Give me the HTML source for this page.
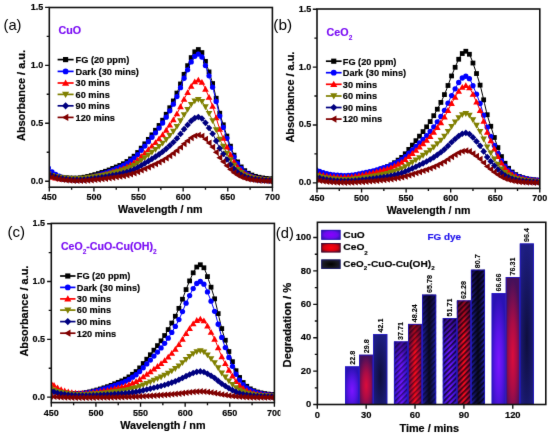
<!DOCTYPE html><html><head><meta charset="utf-8"><style>html,body{margin:0;padding:0;background:#fff;}svg{display:block;}</style></head><body>
<svg width="550" height="437" viewBox="0 0 550 437" font-family='"Liberation Sans", sans-serif'>
<defs><filter id="soft" x="0" y="0" width="550" height="437" filterUnits="userSpaceOnUse" color-interpolation-filters="sRGB"><feConvolveMatrix order="3" kernelMatrix="0.00524 0.06192 0.00524 0.06192 0.73137 0.06192 0.00524 0.06192 0.00524" edgeMode="duplicate" preserveAlpha="true"/></filter></defs>
<rect width="550" height="437" fill="#fff"/>
<g filter="url(#soft)">
<rect width="550" height="437" fill="#fff"/>
<clipPath id="clipa"><rect x="49.3" y="7.5" width="223.1" height="179.7"/></clipPath>
<g clip-path="url(#clipa)">
<polyline points="40.38,170.24 42.16,171.05 43.95,171.83 45.73,172.59 47.52,173.31 49.3,174.01 51.08,174.7 52.87,175.32 54.65,175.81 56.44,176.21 58.22,176.57 60.01,176.89 61.79,177.21 63.58,177.48 65.36,177.68 67.15,177.85 68.93,177.98 70.72,178.03 72.5,178.07 74.29,178.1 76.07,178.11 77.86,178.03 79.64,177.86 81.43,177.65 83.21,177.36 85,177.02 86.78,176.66 88.57,176.25 90.35,175.81 92.14,175.35 93.92,174.87 95.7,174.36 97.49,173.83 99.27,173.29 101.06,172.73 102.84,172.15 104.63,171.57 106.41,170.97 108.2,170.32 109.98,169.59 111.77,168.81 113.55,168.03 115.34,167.31 117.12,166.61 118.91,165.86 120.69,165.05 122.48,164.18 124.26,163.22 126.05,162.1 127.83,160.85 129.62,159.55 131.4,158.25 133.19,156.9 134.97,155.39 136.76,153.56 138.54,151.4 140.32,149.19 142.11,147.06 143.89,144.9 145.68,142.72 147.46,140.49 149.25,138.23 151.03,135.95 152.82,133.67 154.6,131.4 156.39,129.09 158.17,126.68 159.96,124.18 161.74,121.56 163.53,118.77 165.31,115.8 167.1,112.67 168.88,109.4 170.67,106.07 172.45,102.69 174.24,99.09 176.02,95.16 177.81,90.93 179.59,86.4 181.38,81.46 183.16,76.61 184.94,72.11 186.73,67.78 188.51,63.54 190.3,59.41 192.08,55.9 193.87,52.88 195.65,51.01 197.44,49.74 199.22,49.8 201.01,51.28 202.79,54.42 204.58,58.77 206.36,64 208.15,69.2 209.93,74.7 211.72,80.47 213.5,86.78 215.29,94.26 217.07,102.08 218.86,109.64 220.64,116.44 222.43,122.11 224.21,127.51 226,133.22 227.78,138.72 229.56,143.76 231.35,148.48 233.13,153.04 234.92,157.1 236.7,160.41 238.49,163.27 240.27,165.76 242.06,168 243.84,169.88 245.63,171.39 247.41,172.7 249.2,173.77 250.98,174.64 252.77,175.41 254.55,176.07 256.34,176.61 258.12,177.05 259.91,177.43 261.69,177.77 263.48,178.07 265.26,178.31 267.05,178.52 268.83,178.7 270.62,178.83 272.4,178.92 274.18,178.99 275.97,179.05 277.75,179.1 279.54,179.13 281.32,179.15" fill="none" stroke="#000000" stroke-width="1"/>
<rect x="42.45" y="169.82" width="4.78" height="4.78" fill="#000000"/>
<rect x="46.02" y="171.28" width="4.78" height="4.78" fill="#000000"/>
<rect x="49.59" y="172.63" width="4.78" height="4.78" fill="#000000"/>
<rect x="53.15" y="173.63" width="4.78" height="4.78" fill="#000000"/>
<rect x="56.72" y="174.34" width="4.78" height="4.78" fill="#000000"/>
<rect x="60.29" y="174.96" width="4.78" height="4.78" fill="#000000"/>
<rect x="63.86" y="175.38" width="4.78" height="4.78" fill="#000000"/>
<rect x="67.43" y="175.62" width="4.78" height="4.78" fill="#000000"/>
<rect x="71" y="175.7" width="4.78" height="4.78" fill="#000000"/>
<rect x="74.57" y="175.7" width="4.78" height="4.78" fill="#000000"/>
<rect x="78.14" y="175.37" width="4.78" height="4.78" fill="#000000"/>
<rect x="81.71" y="174.8" width="4.78" height="4.78" fill="#000000"/>
<rect x="85.28" y="174.07" width="4.78" height="4.78" fill="#000000"/>
<rect x="88.85" y="173.19" width="4.78" height="4.78" fill="#000000"/>
<rect x="92.42" y="172.22" width="4.78" height="4.78" fill="#000000"/>
<rect x="95.99" y="171.17" width="4.78" height="4.78" fill="#000000"/>
<rect x="99.56" y="170.05" width="4.78" height="4.78" fill="#000000"/>
<rect x="103.13" y="168.88" width="4.78" height="4.78" fill="#000000"/>
<rect x="106.7" y="167.58" width="4.78" height="4.78" fill="#000000"/>
<rect x="110.27" y="166.02" width="4.78" height="4.78" fill="#000000"/>
<rect x="113.84" y="164.57" width="4.78" height="4.78" fill="#000000"/>
<rect x="117.41" y="163.07" width="4.78" height="4.78" fill="#000000"/>
<rect x="120.98" y="161.32" width="4.78" height="4.78" fill="#000000"/>
<rect x="124.55" y="159.1" width="4.78" height="4.78" fill="#000000"/>
<rect x="128.12" y="156.51" width="4.78" height="4.78" fill="#000000"/>
<rect x="131.69" y="153.79" width="4.78" height="4.78" fill="#000000"/>
<rect x="135.26" y="150.11" width="4.78" height="4.78" fill="#000000"/>
<rect x="138.83" y="145.74" width="4.78" height="4.78" fill="#000000"/>
<rect x="142.39" y="141.42" width="4.78" height="4.78" fill="#000000"/>
<rect x="145.96" y="136.97" width="4.78" height="4.78" fill="#000000"/>
<rect x="149.53" y="132.41" width="4.78" height="4.78" fill="#000000"/>
<rect x="153.1" y="127.86" width="4.78" height="4.78" fill="#000000"/>
<rect x="156.67" y="123.05" width="4.78" height="4.78" fill="#000000"/>
<rect x="160.24" y="117.8" width="4.78" height="4.78" fill="#000000"/>
<rect x="163.81" y="111.87" width="4.78" height="4.78" fill="#000000"/>
<rect x="167.38" y="105.35" width="4.78" height="4.78" fill="#000000"/>
<rect x="170.95" y="98.54" width="4.78" height="4.78" fill="#000000"/>
<rect x="174.52" y="90.68" width="4.78" height="4.78" fill="#000000"/>
<rect x="178.09" y="81.56" width="4.78" height="4.78" fill="#000000"/>
<rect x="181.66" y="71.95" width="4.78" height="4.78" fill="#000000"/>
<rect x="185.23" y="63.27" width="4.78" height="4.78" fill="#000000"/>
<rect x="188.8" y="55.2" width="4.78" height="4.78" fill="#000000"/>
<rect x="192.37" y="49.44" width="4.78" height="4.78" fill="#000000"/>
<rect x="195.94" y="47.15" width="4.78" height="4.78" fill="#000000"/>
<rect x="199.51" y="50.17" width="4.78" height="4.78" fill="#000000"/>
<rect x="203.08" y="58.97" width="4.78" height="4.78" fill="#000000"/>
<rect x="206.65" y="69.51" width="4.78" height="4.78" fill="#000000"/>
<rect x="210.22" y="81.14" width="4.78" height="4.78" fill="#000000"/>
<rect x="213.79" y="95.85" width="4.78" height="4.78" fill="#000000"/>
<rect x="217.36" y="110.82" width="4.78" height="4.78" fill="#000000"/>
<rect x="220.93" y="122.4" width="4.78" height="4.78" fill="#000000"/>
<rect x="224.5" y="133.65" width="4.78" height="4.78" fill="#000000"/>
<rect x="228.07" y="143.77" width="4.78" height="4.78" fill="#000000"/>
<rect x="231.63" y="152.78" width="4.78" height="4.78" fill="#000000"/>
<rect x="235.2" y="159.5" width="4.78" height="4.78" fill="#000000"/>
<rect x="238.77" y="164.53" width="4.78" height="4.78" fill="#000000"/>
<rect x="242.34" y="168.27" width="4.78" height="4.78" fill="#000000"/>
<rect x="245.91" y="170.87" width="4.78" height="4.78" fill="#000000"/>
<rect x="249.48" y="172.64" width="4.78" height="4.78" fill="#000000"/>
<rect x="253.05" y="173.96" width="4.78" height="4.78" fill="#000000"/>
<rect x="256.62" y="174.85" width="4.78" height="4.78" fill="#000000"/>
<rect x="260.19" y="175.53" width="4.78" height="4.78" fill="#000000"/>
<rect x="263.76" y="176.03" width="4.78" height="4.78" fill="#000000"/>
<rect x="267.33" y="176.38" width="4.78" height="4.78" fill="#000000"/>
<rect x="270.9" y="176.56" width="4.78" height="4.78" fill="#000000"/>
<polyline points="40.38,154.39 42.16,158.33 43.95,161.68 45.73,164.55 47.52,167.01 49.3,169.14 51.08,170.99 52.87,172.57 54.65,173.84 56.44,174.88 58.22,175.76 60.01,176.52 61.79,177.18 63.58,177.73 65.36,178.17 67.15,178.53 68.93,178.8 70.72,178.99 72.5,179.13 74.29,179.24 76.07,179.31 77.86,179.29 79.64,179.16 81.43,178.99 83.21,178.74 85,178.43 86.78,178.09 88.57,177.7 90.35,177.28 92.14,176.84 93.92,176.37 95.7,175.88 97.49,175.37 99.27,174.84 101.06,174.29 102.84,173.73 104.63,173.16 106.41,172.58 108.2,171.94 109.98,171.23 111.77,170.46 113.55,169.7 115.34,169 117.12,168.31 118.91,167.58 120.69,166.78 122.48,165.94 124.26,165 126.05,163.91 127.83,162.68 129.62,161.41 131.4,160.14 133.19,158.83 134.97,157.35 136.76,155.56 138.54,153.45 140.32,151.3 142.11,149.21 143.89,147.11 145.68,144.98 147.46,142.81 149.25,140.6 151.03,138.37 152.82,136.14 154.6,133.93 156.39,131.67 158.17,129.32 159.96,126.89 161.74,124.33 163.53,121.6 165.31,118.71 167.1,115.65 168.88,112.46 170.67,109.21 172.45,105.92 174.24,102.41 176.02,98.57 177.81,94.44 179.59,90.02 181.38,85.2 183.16,80.48 184.94,76.08 186.73,71.85 188.51,67.72 190.3,63.69 192.08,60.27 193.87,57.32 195.65,55.5 197.44,54.26 199.22,54.31 201.01,55.75 202.79,58.81 204.58,63.05 206.36,68.14 208.15,73.21 209.93,78.57 211.72,84.19 213.5,90.34 215.29,97.63 217.07,105.25 218.86,112.63 220.64,119.25 222.43,124.77 224.21,130.04 226,135.6 227.78,140.96 229.56,145.87 231.35,150.47 233.13,154.91 234.92,158.86 236.7,162.09 238.49,164.88 240.27,167.31 242.06,169.48 243.84,171.31 245.63,172.79 247.41,174.05 249.2,175.09 250.98,175.94 252.77,176.69 254.55,177.33 256.34,177.85 258.12,178.28 259.91,178.65 261.69,178.98 263.48,179.27 265.26,179.5 267.05,179.7 268.83,179.87 270.62,180 272.4,180.08 274.18,180.15 275.97,180.2 277.75,180.25 279.54,180.28 281.32,180.29" fill="none" stroke="#0000ff" stroke-width="1"/>
<circle cx="44.84" cy="163.17" r="2.65" fill="#0000ff"/>
<circle cx="48.41" cy="168.11" r="2.65" fill="#0000ff"/>
<circle cx="51.98" cy="171.81" r="2.65" fill="#0000ff"/>
<circle cx="55.55" cy="174.39" r="2.65" fill="#0000ff"/>
<circle cx="59.12" cy="176.15" r="2.65" fill="#0000ff"/>
<circle cx="62.69" cy="177.47" r="2.65" fill="#0000ff"/>
<circle cx="66.26" cy="178.35" r="2.65" fill="#0000ff"/>
<circle cx="69.83" cy="178.9" r="2.65" fill="#0000ff"/>
<circle cx="73.39" cy="179.19" r="2.65" fill="#0000ff"/>
<circle cx="76.96" cy="179.32" r="2.65" fill="#0000ff"/>
<circle cx="80.53" cy="179.08" r="2.65" fill="#0000ff"/>
<circle cx="84.1" cy="178.59" r="2.65" fill="#0000ff"/>
<circle cx="87.67" cy="177.9" r="2.65" fill="#0000ff"/>
<circle cx="91.24" cy="177.07" r="2.65" fill="#0000ff"/>
<circle cx="94.81" cy="176.13" r="2.65" fill="#0000ff"/>
<circle cx="98.38" cy="175.11" r="2.65" fill="#0000ff"/>
<circle cx="101.95" cy="174.01" r="2.65" fill="#0000ff"/>
<circle cx="105.52" cy="172.87" r="2.65" fill="#0000ff"/>
<circle cx="109.09" cy="171.6" r="2.65" fill="#0000ff"/>
<circle cx="112.66" cy="170.08" r="2.65" fill="#0000ff"/>
<circle cx="116.23" cy="168.66" r="2.65" fill="#0000ff"/>
<circle cx="119.8" cy="167.18" r="2.65" fill="#0000ff"/>
<circle cx="123.37" cy="165.48" r="2.65" fill="#0000ff"/>
<circle cx="126.94" cy="163.31" r="2.65" fill="#0000ff"/>
<circle cx="130.51" cy="160.77" r="2.65" fill="#0000ff"/>
<circle cx="134.08" cy="158.12" r="2.65" fill="#0000ff"/>
<circle cx="137.65" cy="154.53" r="2.65" fill="#0000ff"/>
<circle cx="141.22" cy="150.26" r="2.65" fill="#0000ff"/>
<circle cx="144.79" cy="146.05" r="2.65" fill="#0000ff"/>
<circle cx="148.36" cy="141.71" r="2.65" fill="#0000ff"/>
<circle cx="151.93" cy="137.25" r="2.65" fill="#0000ff"/>
<circle cx="155.5" cy="132.81" r="2.65" fill="#0000ff"/>
<circle cx="159.07" cy="128.12" r="2.65" fill="#0000ff"/>
<circle cx="162.63" cy="122.99" r="2.65" fill="#0000ff"/>
<circle cx="166.2" cy="117.2" r="2.65" fill="#0000ff"/>
<circle cx="169.77" cy="110.84" r="2.65" fill="#0000ff"/>
<circle cx="173.34" cy="104.2" r="2.65" fill="#0000ff"/>
<circle cx="176.91" cy="96.53" r="2.65" fill="#0000ff"/>
<circle cx="180.48" cy="87.64" r="2.65" fill="#0000ff"/>
<circle cx="184.05" cy="78.26" r="2.65" fill="#0000ff"/>
<circle cx="187.62" cy="69.79" r="2.65" fill="#0000ff"/>
<circle cx="191.19" cy="61.92" r="2.65" fill="#0000ff"/>
<circle cx="194.76" cy="56.3" r="2.65" fill="#0000ff"/>
<circle cx="198.33" cy="54.06" r="2.65" fill="#0000ff"/>
<circle cx="201.9" cy="57" r="2.65" fill="#0000ff"/>
<circle cx="205.47" cy="65.57" r="2.65" fill="#0000ff"/>
<circle cx="209.04" cy="75.85" r="2.65" fill="#0000ff"/>
<circle cx="212.61" cy="87.17" r="2.65" fill="#0000ff"/>
<circle cx="216.18" cy="101.51" r="2.65" fill="#0000ff"/>
<circle cx="219.75" cy="116.1" r="2.65" fill="#0000ff"/>
<circle cx="223.32" cy="127.38" r="2.65" fill="#0000ff"/>
<circle cx="226.89" cy="138.35" r="2.65" fill="#0000ff"/>
<circle cx="230.46" cy="148.21" r="2.65" fill="#0000ff"/>
<circle cx="234.03" cy="156.99" r="2.65" fill="#0000ff"/>
<circle cx="237.6" cy="163.53" r="2.65" fill="#0000ff"/>
<circle cx="241.17" cy="168.43" r="2.65" fill="#0000ff"/>
<circle cx="244.74" cy="172.07" r="2.65" fill="#0000ff"/>
<circle cx="248.31" cy="174.6" r="2.65" fill="#0000ff"/>
<circle cx="251.87" cy="176.33" r="2.65" fill="#0000ff"/>
<circle cx="255.44" cy="177.61" r="2.65" fill="#0000ff"/>
<circle cx="259.01" cy="178.47" r="2.65" fill="#0000ff"/>
<circle cx="262.58" cy="179.13" r="2.65" fill="#0000ff"/>
<circle cx="266.15" cy="179.6" r="2.65" fill="#0000ff"/>
<circle cx="269.72" cy="179.94" r="2.65" fill="#0000ff"/>
<circle cx="273.29" cy="180.11" r="2.65" fill="#0000ff"/>
<polyline points="40.38,173.82 42.16,174.41 43.95,174.98 45.73,175.54 47.52,176.08 49.3,176.6 51.08,177.11 52.87,177.58 54.65,177.95 56.44,178.25 58.22,178.51 60.01,178.76 61.79,178.99 63.58,179.19 65.36,179.34 67.15,179.47 68.93,179.56 70.72,179.6 72.5,179.63 74.29,179.65 76.07,179.65 77.86,179.59 79.64,179.45 81.43,179.29 83.21,179.06 85,178.8 86.78,178.51 88.57,178.2 90.35,177.85 92.14,177.5 93.92,177.12 95.7,176.72 97.49,176.32 99.27,175.89 101.06,175.46 102.84,175.01 104.63,174.56 106.41,174.09 108.2,173.59 109.98,173.02 111.77,172.41 113.55,171.81 115.34,171.25 117.12,170.71 118.91,170.12 120.69,169.5 122.48,168.82 124.26,168.08 126.05,167.21 127.83,166.24 129.62,165.23 131.4,164.23 133.19,163.18 134.97,162.01 136.76,160.59 138.54,158.92 140.32,157.21 142.11,155.55 143.89,153.88 145.68,152.19 147.46,150.47 149.25,148.72 151.03,146.95 152.82,145.18 154.6,143.42 156.39,141.63 158.17,139.77 159.96,137.83 161.74,135.8 163.53,133.64 165.31,131.34 167.1,128.92 168.88,126.38 170.67,123.8 172.45,121.19 174.24,118.4 176.02,115.35 177.81,112.08 179.59,108.57 181.38,104.74 183.16,100.99 184.94,97.5 186.73,94.15 188.51,90.86 190.3,87.66 192.08,84.95 193.87,82.61 195.65,81.16 197.44,80.18 199.22,80.22 201.01,81.37 202.79,83.79 204.58,87.16 206.36,91.21 208.15,95.23 209.93,99.49 211.72,103.95 213.5,108.84 215.29,114.62 217.07,120.68 218.86,126.53 220.64,131.79 222.43,136.18 224.21,140.36 226,144.78 227.78,149.04 229.56,152.94 231.35,156.59 233.13,160.12 234.92,163.26 236.7,165.82 238.49,168.03 240.27,169.96 242.06,171.69 243.84,173.14 245.63,174.32 247.41,175.32 249.2,176.15 250.98,176.82 252.77,177.42 254.55,177.93 256.34,178.35 258.12,178.68 259.91,178.98 261.69,179.24 263.48,179.47 265.26,179.66 267.05,179.81 268.83,179.95 270.62,180.06 272.4,180.12 274.18,180.17 275.97,180.22 277.75,180.25 279.54,180.28 281.32,180.29" fill="none" stroke="#ff0000" stroke-width="1"/>
<path d="M44.84 171.93L48.17 177.76L41.51 177.76Z" fill="#ff0000"/>
<path d="M48.41 173.01L51.74 178.84L45.08 178.84Z" fill="#ff0000"/>
<path d="M51.98 174.03L55.31 179.85L48.65 179.85Z" fill="#ff0000"/>
<path d="M55.55 174.77L58.87 180.6L52.22 180.6Z" fill="#ff0000"/>
<path d="M59.12 175.31L62.44 181.13L55.79 181.13Z" fill="#ff0000"/>
<path d="M62.69 175.77L66.01 181.6L59.36 181.6Z" fill="#ff0000"/>
<path d="M66.26 176.08L69.58 181.91L62.93 181.91Z" fill="#ff0000"/>
<path d="M69.83 176.26L73.15 182.08L66.5 182.08Z" fill="#ff0000"/>
<path d="M73.39 176.31L76.72 182.14L70.07 182.14Z" fill="#ff0000"/>
<path d="M76.96 176.3L80.29 182.13L73.64 182.13Z" fill="#ff0000"/>
<path d="M80.53 176.05L83.86 181.87L77.21 181.87Z" fill="#ff0000"/>
<path d="M84.1 175.6L87.43 181.43L80.78 181.43Z" fill="#ff0000"/>
<path d="M87.67 175.03L91 180.85L84.35 180.85Z" fill="#ff0000"/>
<path d="M91.24 174.35L94.57 180.17L87.91 180.17Z" fill="#ff0000"/>
<path d="M94.81 173.59L98.14 179.42L91.48 179.42Z" fill="#ff0000"/>
<path d="M98.38 172.78L101.71 178.6L95.05 178.6Z" fill="#ff0000"/>
<path d="M101.95 171.91L105.28 177.73L98.62 177.73Z" fill="#ff0000"/>
<path d="M105.52 171L108.85 176.82L102.19 176.82Z" fill="#ff0000"/>
<path d="M109.09 169.99L112.42 175.81L105.76 175.81Z" fill="#ff0000"/>
<path d="M112.66 168.78L115.99 174.6L109.33 174.6Z" fill="#ff0000"/>
<path d="M116.23 167.65L119.56 173.48L112.9 173.48Z" fill="#ff0000"/>
<path d="M119.8 166.49L123.13 172.31L116.47 172.31Z" fill="#ff0000"/>
<path d="M123.37 165.14L126.7 170.96L120.04 170.96Z" fill="#ff0000"/>
<path d="M126.94 163.41L130.27 169.23L123.61 169.23Z" fill="#ff0000"/>
<path d="M130.51 161.4L133.84 167.22L127.18 167.22Z" fill="#ff0000"/>
<path d="M134.08 159.29L137.41 165.12L130.75 165.12Z" fill="#ff0000"/>
<path d="M137.65 156.44L140.98 162.27L134.32 162.27Z" fill="#ff0000"/>
<path d="M141.22 153.05L144.55 158.88L137.89 158.88Z" fill="#ff0000"/>
<path d="M144.79 149.71L148.11 155.54L141.46 155.54Z" fill="#ff0000"/>
<path d="M148.36 146.27L151.68 152.09L145.03 152.09Z" fill="#ff0000"/>
<path d="M151.93 142.73L155.25 148.56L148.6 148.56Z" fill="#ff0000"/>
<path d="M155.5 139.21L158.82 145.03L152.17 145.03Z" fill="#ff0000"/>
<path d="M159.07 135.48L162.39 141.31L155.74 141.31Z" fill="#ff0000"/>
<path d="M162.63 131.41L165.96 137.23L159.31 137.23Z" fill="#ff0000"/>
<path d="M166.2 126.82L169.53 132.64L162.88 132.64Z" fill="#ff0000"/>
<path d="M169.77 121.77L173.1 127.59L166.45 127.59Z" fill="#ff0000"/>
<path d="M173.34 116.5L176.67 122.32L170.02 122.32Z" fill="#ff0000"/>
<path d="M176.91 110.41L180.24 116.23L173.59 116.23Z" fill="#ff0000"/>
<path d="M180.48 103.35L183.81 109.17L177.15 109.17Z" fill="#ff0000"/>
<path d="M184.05 95.9L187.38 101.72L180.72 101.72Z" fill="#ff0000"/>
<path d="M187.62 89.18L190.95 95.01L184.29 95.01Z" fill="#ff0000"/>
<path d="M191.19 82.93L194.52 88.76L187.86 88.76Z" fill="#ff0000"/>
<path d="M194.76 78.47L198.09 84.3L191.43 84.3Z" fill="#ff0000"/>
<path d="M198.33 76.69L201.66 82.52L195 82.52Z" fill="#ff0000"/>
<path d="M201.9 79.03L205.23 84.85L198.57 84.85Z" fill="#ff0000"/>
<path d="M205.47 85.84L208.8 91.66L202.14 91.66Z" fill="#ff0000"/>
<path d="M209.04 94L212.37 99.82L205.71 99.82Z" fill="#ff0000"/>
<path d="M212.61 102.99L215.94 108.82L209.28 108.82Z" fill="#ff0000"/>
<path d="M216.18 114.38L219.51 120.2L212.85 120.2Z" fill="#ff0000"/>
<path d="M219.75 125.97L223.08 131.79L216.42 131.79Z" fill="#ff0000"/>
<path d="M223.32 134.93L226.65 140.75L219.99 140.75Z" fill="#ff0000"/>
<path d="M226.89 143.63L230.22 149.46L223.56 149.46Z" fill="#ff0000"/>
<path d="M230.46 151.47L233.79 157.29L227.13 157.29Z" fill="#ff0000"/>
<path d="M234.03 158.44L237.35 164.26L230.7 164.26Z" fill="#ff0000"/>
<path d="M237.6 163.64L240.92 169.46L234.27 169.46Z" fill="#ff0000"/>
<path d="M241.17 167.53L244.49 173.35L237.84 173.35Z" fill="#ff0000"/>
<path d="M244.74 170.42L248.06 176.25L241.41 176.25Z" fill="#ff0000"/>
<path d="M248.31 172.43L251.63 178.26L244.98 178.26Z" fill="#ff0000"/>
<path d="M251.87 173.8L255.2 179.63L248.55 179.63Z" fill="#ff0000"/>
<path d="M255.44 174.82L258.77 180.64L252.12 180.64Z" fill="#ff0000"/>
<path d="M259.01 175.51L262.34 181.33L255.69 181.33Z" fill="#ff0000"/>
<path d="M262.58 176.03L265.91 181.86L259.26 181.86Z" fill="#ff0000"/>
<path d="M266.15 176.41L269.48 182.23L262.83 182.23Z" fill="#ff0000"/>
<path d="M269.72 176.68L273.05 182.51L266.39 182.51Z" fill="#ff0000"/>
<path d="M273.29 176.82L276.62 182.64L269.96 182.64Z" fill="#ff0000"/>
<polyline points="40.38,170.05 42.16,171.1 43.95,172.06 45.73,172.93 47.52,173.73 49.3,174.46 51.08,175.14 52.87,175.75 54.65,176.25 56.44,176.66 58.22,177.02 60.01,177.35 61.79,177.65 63.58,177.91 65.36,178.12 67.15,178.3 68.93,178.43 70.72,178.52 72.5,178.59 74.29,178.65 76.07,178.69 77.86,178.68 79.64,178.6 81.43,178.5 83.21,178.34 85,178.15 86.78,177.94 88.57,177.7 90.35,177.45 92.14,177.18 93.92,176.89 95.7,176.58 97.49,176.27 99.27,175.94 101.06,175.6 102.84,175.26 104.63,174.91 106.41,174.54 108.2,174.15 109.98,173.7 111.77,173.22 113.55,172.75 115.34,172.31 117.12,171.88 118.91,171.42 120.69,170.93 122.48,170.4 124.26,169.81 126.05,169.12 127.83,168.35 129.62,167.55 131.4,166.75 133.19,165.92 134.97,164.99 136.76,163.86 138.54,162.52 140.32,161.16 142.11,159.84 143.89,158.51 145.68,157.16 147.46,155.79 149.25,154.39 151.03,152.98 152.82,151.57 154.6,150.17 156.39,148.74 158.17,147.25 159.96,145.71 161.74,144.08 163.53,142.35 165.31,140.52 167.1,138.58 168.88,136.56 170.67,134.5 172.45,132.41 174.24,130.18 176.02,127.74 177.81,125.12 179.59,122.31 181.38,119.25 183.16,116.25 184.94,113.46 186.73,110.77 188.51,108.15 190.3,105.59 192.08,103.42 193.87,101.55 195.65,100.4 197.44,99.61 199.22,99.66 201.01,100.58 202.79,102.54 204.58,105.25 206.36,108.5 208.15,111.74 209.93,115.17 211.72,118.76 213.5,122.68 215.29,127.33 217.07,132.2 218.86,136.91 220.64,141.14 222.43,144.66 224.21,148.03 226,151.58 227.78,155 229.56,158.14 231.35,161.08 233.13,163.92 234.92,166.45 236.7,168.51 238.49,170.3 240.27,171.85 242.06,173.25 243.84,174.42 245.63,175.37 247.41,176.19 249.2,176.86 250.98,177.41 252.77,177.89 254.55,178.31 256.34,178.65 258.12,178.93 259.91,179.18 261.69,179.4 263.48,179.59 265.26,179.75 267.05,179.88 268.83,180 270.62,180.09 272.4,180.15 274.18,180.2 275.97,180.25 277.75,180.28 279.54,180.31 281.32,180.33" fill="none" stroke="#808000" stroke-width="1"/>
<path d="M44.84 175.83L48.17 170.01L41.51 170.01Z" fill="#808000"/>
<path d="M48.41 177.43L51.74 171.61L45.08 171.61Z" fill="#808000"/>
<path d="M51.98 178.79L55.31 172.96L48.65 172.96Z" fill="#808000"/>
<path d="M55.55 179.79L58.87 173.97L52.22 173.97Z" fill="#808000"/>
<path d="M59.12 180.52L62.44 174.7L55.79 174.7Z" fill="#808000"/>
<path d="M62.69 181.12L66.01 175.3L59.36 175.3Z" fill="#808000"/>
<path d="M66.26 181.54L69.58 175.71L62.93 175.71Z" fill="#808000"/>
<path d="M69.83 181.81L73.15 175.99L66.5 175.99Z" fill="#808000"/>
<path d="M73.39 181.95L76.72 176.13L70.07 176.13Z" fill="#808000"/>
<path d="M76.96 182.02L80.29 176.2L73.64 176.2Z" fill="#808000"/>
<path d="M80.53 181.88L83.86 176.06L77.21 176.06Z" fill="#808000"/>
<path d="M84.1 181.57L87.43 175.75L80.78 175.75Z" fill="#808000"/>
<path d="M87.67 181.15L91 175.33L84.35 175.33Z" fill="#808000"/>
<path d="M91.24 180.64L94.57 174.82L87.91 174.82Z" fill="#808000"/>
<path d="M94.81 180.06L98.14 174.24L91.48 174.24Z" fill="#808000"/>
<path d="M98.38 179.44L101.71 173.61L95.05 173.61Z" fill="#808000"/>
<path d="M101.95 178.76L105.28 172.94L98.62 172.94Z" fill="#808000"/>
<path d="M105.52 178.05L108.85 172.23L102.19 172.23Z" fill="#808000"/>
<path d="M109.09 177.26L112.42 171.44L105.76 171.44Z" fill="#808000"/>
<path d="M112.66 176.31L115.99 170.49L109.33 170.49Z" fill="#808000"/>
<path d="M116.23 175.43L119.56 169.6L112.9 169.6Z" fill="#808000"/>
<path d="M119.8 174.51L123.13 168.68L116.47 168.68Z" fill="#808000"/>
<path d="M123.37 173.44L126.7 167.62L120.04 167.62Z" fill="#808000"/>
<path d="M126.94 172.07L130.27 166.25L123.61 166.25Z" fill="#808000"/>
<path d="M130.51 170.48L133.84 164.65L127.18 164.65Z" fill="#808000"/>
<path d="M134.08 168.8L137.41 162.98L130.75 162.98Z" fill="#808000"/>
<path d="M137.65 166.53L140.98 160.71L134.32 160.71Z" fill="#808000"/>
<path d="M141.22 163.83L144.55 158.01L137.89 158.01Z" fill="#808000"/>
<path d="M144.79 161.17L148.11 155.34L141.46 155.34Z" fill="#808000"/>
<path d="M148.36 158.42L151.68 152.59L145.03 152.59Z" fill="#808000"/>
<path d="M151.93 155.6L155.25 149.77L148.6 149.77Z" fill="#808000"/>
<path d="M155.5 152.79L158.82 146.96L152.17 146.96Z" fill="#808000"/>
<path d="M159.07 149.81L162.39 143.99L155.74 143.99Z" fill="#808000"/>
<path d="M162.63 146.56L165.96 140.74L159.31 140.74Z" fill="#808000"/>
<path d="M166.2 142.89L169.53 137.07L162.88 137.07Z" fill="#808000"/>
<path d="M169.77 138.86L173.1 133.03L166.45 133.03Z" fill="#808000"/>
<path d="M173.34 134.64L176.67 128.82L170.02 128.82Z" fill="#808000"/>
<path d="M176.91 129.78L180.24 123.95L173.59 123.95Z" fill="#808000"/>
<path d="M180.48 124.13L183.81 118.3L177.15 118.3Z" fill="#808000"/>
<path d="M184.05 118.17L187.38 112.34L180.72 112.34Z" fill="#808000"/>
<path d="M187.62 112.79L190.95 106.97L184.29 106.97Z" fill="#808000"/>
<path d="M191.19 107.79L194.52 101.97L187.86 101.97Z" fill="#808000"/>
<path d="M194.76 104.23L198.09 98.41L191.43 98.41Z" fill="#808000"/>
<path d="M198.33 102.82L201.66 96.99L195 96.99Z" fill="#808000"/>
<path d="M201.9 104.71L205.23 98.89L198.57 98.89Z" fill="#808000"/>
<path d="M205.47 110.19L208.8 104.37L202.14 104.37Z" fill="#808000"/>
<path d="M209.04 116.75L212.37 110.93L205.71 110.93Z" fill="#808000"/>
<path d="M212.61 123.99L215.94 118.16L209.28 118.16Z" fill="#808000"/>
<path d="M216.18 133.14L219.51 127.32L212.85 127.32Z" fill="#808000"/>
<path d="M219.75 142.46L223.08 136.63L216.42 136.63Z" fill="#808000"/>
<path d="M223.32 149.66L226.65 143.84L219.99 143.84Z" fill="#808000"/>
<path d="M226.89 156.66L230.22 150.84L223.56 150.84Z" fill="#808000"/>
<path d="M230.46 162.97L233.79 157.14L227.13 157.14Z" fill="#808000"/>
<path d="M234.03 168.58L237.35 162.75L230.7 162.75Z" fill="#808000"/>
<path d="M237.6 172.76L240.92 166.94L234.27 166.94Z" fill="#808000"/>
<path d="M241.17 175.9L244.49 170.08L237.84 170.08Z" fill="#808000"/>
<path d="M244.74 178.24L248.06 172.42L241.41 172.42Z" fill="#808000"/>
<path d="M248.31 179.87L251.63 174.05L244.98 174.05Z" fill="#808000"/>
<path d="M251.87 180.99L255.2 175.16L248.55 175.16Z" fill="#808000"/>
<path d="M255.44 181.82L258.77 175.99L252.12 175.99Z" fill="#808000"/>
<path d="M259.01 182.39L262.34 176.56L255.69 176.56Z" fill="#808000"/>
<path d="M262.58 182.82L265.91 177L259.26 177Z" fill="#808000"/>
<path d="M266.15 183.14L269.48 177.32L262.83 177.32Z" fill="#808000"/>
<path d="M269.72 183.38L273.05 177.55L266.39 177.55Z" fill="#808000"/>
<path d="M273.29 183.5L276.62 177.68L269.96 177.68Z" fill="#808000"/>
<polyline points="40.38,168.72 42.16,170.2 43.95,171.51 45.73,172.68 47.52,173.72 49.3,174.65 51.08,175.49 52.87,176.22 54.65,176.83 56.44,177.35 58.22,177.79 60.01,178.19 61.79,178.54 63.58,178.85 65.36,179.09 67.15,179.3 68.93,179.47 70.72,179.59 72.5,179.69 74.29,179.77 76.07,179.84 77.86,179.85 79.64,179.81 81.43,179.74 83.21,179.63 85,179.49 86.78,179.34 88.57,179.16 90.35,178.96 92.14,178.75 93.92,178.52 95.7,178.28 97.49,178.03 99.27,177.77 101.06,177.51 102.84,177.23 104.63,176.95 106.41,176.66 108.2,176.34 109.98,175.99 111.77,175.6 113.55,175.23 115.34,174.88 117.12,174.53 118.91,174.16 120.69,173.77 122.48,173.34 124.26,172.87 126.05,172.32 127.83,171.71 129.62,171.07 131.4,170.43 133.19,169.77 134.97,169.03 136.76,168.13 138.54,167.07 140.32,165.98 142.11,164.93 143.89,163.87 145.68,162.8 147.46,161.71 149.25,160.59 151.03,159.47 152.82,158.35 154.6,157.24 156.39,156.1 158.17,154.92 159.96,153.69 161.74,152.4 163.53,151.03 165.31,149.57 167.1,148.03 168.88,146.42 170.67,144.79 172.45,143.13 174.24,141.36 176.02,139.42 177.81,137.34 179.59,135.11 181.38,132.68 183.16,130.3 184.94,128.09 186.73,125.96 188.51,123.87 190.3,121.84 192.08,120.12 193.87,118.63 195.65,117.72 197.44,117.09 199.22,117.12 201.01,117.85 202.79,119.39 204.58,121.53 206.36,124.11 208.15,126.66 209.93,129.37 211.72,132.21 213.5,135.31 215.29,138.99 217.07,142.84 218.86,146.56 220.64,149.9 222.43,152.69 224.21,155.35 226,158.15 227.78,160.86 229.56,163.34 231.35,165.66 233.13,167.9 234.92,169.9 236.7,171.53 238.49,172.94 240.27,174.16 242.06,175.26 243.84,176.19 245.63,176.93 247.41,177.57 249.2,178.1 250.98,178.53 252.77,178.91 254.55,179.23 256.34,179.5 258.12,179.72 259.91,179.91 261.69,180.07 263.48,180.22 265.26,180.34 267.05,180.44 268.83,180.53 270.62,180.6 272.4,180.64 274.18,180.67 275.97,180.7 277.75,180.73 279.54,180.75 281.32,180.75" fill="none" stroke="#000080" stroke-width="1"/>
<path d="M44.84 168.79L48.17 172.11L44.84 175.44L41.51 172.11Z" fill="#000080"/>
<path d="M48.41 170.87L51.74 174.2L48.41 177.52L45.08 174.2Z" fill="#000080"/>
<path d="M51.98 172.54L55.31 175.87L51.98 179.2L48.65 175.87Z" fill="#000080"/>
<path d="M55.55 173.77L58.87 177.1L55.55 180.43L52.22 177.1Z" fill="#000080"/>
<path d="M59.12 174.67L62.44 177.99L59.12 181.32L55.79 177.99Z" fill="#000080"/>
<path d="M62.69 175.37L66.01 178.7L62.69 182.03L59.36 178.7Z" fill="#000080"/>
<path d="M66.26 175.87L69.58 179.2L66.26 182.53L62.93 179.2Z" fill="#000080"/>
<path d="M69.83 176.21L73.15 179.54L69.83 182.86L66.5 179.54Z" fill="#000080"/>
<path d="M73.39 176.41L76.72 179.73L73.39 183.06L70.07 179.73Z" fill="#000080"/>
<path d="M76.96 176.52L80.29 179.85L76.96 183.18L73.64 179.85Z" fill="#000080"/>
<path d="M80.53 176.45L83.86 179.78L80.53 183.11L77.21 179.78Z" fill="#000080"/>
<path d="M84.1 176.24L87.43 179.56L84.1 182.89L80.78 179.56Z" fill="#000080"/>
<path d="M87.67 175.92L91 179.25L87.67 182.58L84.35 179.25Z" fill="#000080"/>
<path d="M91.24 175.53L94.57 178.85L91.24 182.18L87.91 178.85Z" fill="#000080"/>
<path d="M94.81 175.07L98.14 178.4L94.81 181.73L91.48 178.4Z" fill="#000080"/>
<path d="M98.38 174.58L101.71 177.91L98.38 181.23L95.05 177.91Z" fill="#000080"/>
<path d="M101.95 174.04L105.28 177.37L101.95 180.7L98.62 177.37Z" fill="#000080"/>
<path d="M105.52 173.48L108.85 176.81L105.52 180.13L102.19 176.81Z" fill="#000080"/>
<path d="M109.09 172.84L112.42 176.17L109.09 179.5L105.76 176.17Z" fill="#000080"/>
<path d="M112.66 172.08L115.99 175.41L112.66 178.74L109.33 175.41Z" fill="#000080"/>
<path d="M116.23 171.38L119.56 174.7L116.23 178.03L112.9 174.7Z" fill="#000080"/>
<path d="M119.8 170.64L123.13 173.97L119.8 177.3L116.47 173.97Z" fill="#000080"/>
<path d="M123.37 169.79L126.7 173.12L123.37 176.44L120.04 173.12Z" fill="#000080"/>
<path d="M126.94 168.69L130.27 172.02L126.94 175.35L123.61 172.02Z" fill="#000080"/>
<path d="M130.51 167.42L133.84 170.75L130.51 174.08L127.18 170.75Z" fill="#000080"/>
<path d="M134.08 166.09L137.41 169.41L134.08 172.74L130.75 169.41Z" fill="#000080"/>
<path d="M137.65 164.28L140.98 167.61L137.65 170.94L134.32 167.61Z" fill="#000080"/>
<path d="M141.22 162.13L144.55 165.46L141.22 168.79L137.89 165.46Z" fill="#000080"/>
<path d="M144.79 160.01L148.11 163.34L144.79 166.67L141.46 163.34Z" fill="#000080"/>
<path d="M148.36 157.82L151.68 161.15L148.36 164.48L145.03 161.15Z" fill="#000080"/>
<path d="M151.93 155.58L155.25 158.91L151.93 162.24L148.6 158.91Z" fill="#000080"/>
<path d="M155.5 153.35L158.82 156.67L155.5 160L152.17 156.67Z" fill="#000080"/>
<path d="M159.07 150.98L162.39 154.31L159.07 157.64L155.74 154.31Z" fill="#000080"/>
<path d="M162.63 148.4L165.96 151.73L162.63 155.05L159.31 151.73Z" fill="#000080"/>
<path d="M166.2 145.48L169.53 148.81L166.2 152.14L162.88 148.81Z" fill="#000080"/>
<path d="M169.77 142.28L173.1 145.6L169.77 148.93L166.45 145.6Z" fill="#000080"/>
<path d="M173.34 138.93L176.67 142.26L173.34 145.59L170.02 142.26Z" fill="#000080"/>
<path d="M176.91 135.07L180.24 138.4L176.91 141.72L173.59 138.4Z" fill="#000080"/>
<path d="M180.48 130.58L183.81 133.91L180.48 137.24L177.15 133.91Z" fill="#000080"/>
<path d="M184.05 125.86L187.38 129.18L184.05 132.51L180.72 129.18Z" fill="#000080"/>
<path d="M187.62 121.59L190.95 124.92L187.62 128.25L184.29 124.92Z" fill="#000080"/>
<path d="M191.19 117.62L194.52 120.95L191.19 124.28L187.86 120.95Z" fill="#000080"/>
<path d="M194.76 114.79L198.09 118.12L194.76 121.45L191.43 118.12Z" fill="#000080"/>
<path d="M198.33 113.66L201.66 116.99L198.33 120.32L195 116.99Z" fill="#000080"/>
<path d="M201.9 115.15L205.23 118.48L201.9 121.81L198.57 118.48Z" fill="#000080"/>
<path d="M205.47 119.48L208.8 122.81L205.47 126.14L202.14 122.81Z" fill="#000080"/>
<path d="M209.04 124.67L212.37 127.99L209.04 131.32L205.71 127.99Z" fill="#000080"/>
<path d="M212.61 130.38L215.94 133.71L212.61 137.04L209.28 133.71Z" fill="#000080"/>
<path d="M216.18 137.62L219.51 140.95L216.18 144.28L212.85 140.95Z" fill="#000080"/>
<path d="M219.75 144.98L223.08 148.31L219.75 151.64L216.42 148.31Z" fill="#000080"/>
<path d="M223.32 150.68L226.65 154.01L223.32 157.33L219.99 154.01Z" fill="#000080"/>
<path d="M226.89 156.21L230.22 159.54L226.89 162.87L223.56 159.54Z" fill="#000080"/>
<path d="M230.46 161.19L233.79 164.52L230.46 167.85L227.13 164.52Z" fill="#000080"/>
<path d="M234.03 165.62L237.35 168.95L234.03 172.28L230.7 168.95Z" fill="#000080"/>
<path d="M237.6 168.93L240.92 172.26L237.6 175.58L234.27 172.26Z" fill="#000080"/>
<path d="M241.17 171.4L244.49 174.73L241.17 178.06L237.84 174.73Z" fill="#000080"/>
<path d="M244.74 173.24L248.06 176.57L244.74 179.9L241.41 176.57Z" fill="#000080"/>
<path d="M248.31 174.52L251.63 177.85L248.31 181.18L244.98 177.85Z" fill="#000080"/>
<path d="M251.87 175.4L255.2 178.72L251.87 182.05L248.55 178.72Z" fill="#000080"/>
<path d="M255.44 176.05L258.77 179.37L255.44 182.7L252.12 179.37Z" fill="#000080"/>
<path d="M259.01 176.49L262.34 179.81L259.01 183.14L255.69 179.81Z" fill="#000080"/>
<path d="M262.58 176.82L265.91 180.15L262.58 183.48L259.26 180.15Z" fill="#000080"/>
<path d="M266.15 177.06L269.48 180.39L266.15 183.72L262.83 180.39Z" fill="#000080"/>
<path d="M269.72 177.24L273.05 180.57L269.72 183.9L266.39 180.57Z" fill="#000080"/>
<path d="M273.29 177.33L276.62 180.66L273.29 183.99L269.96 180.66Z" fill="#000080"/>
<polyline points="40.38,170.65 42.16,172.03 43.95,173.25 45.73,174.32 47.52,175.27 49.3,176.11 51.08,176.86 52.87,177.51 54.65,178.06 56.44,178.52 58.22,178.92 60.01,179.27 61.79,179.58 63.58,179.85 65.36,180.07 67.15,180.25 68.93,180.4 70.72,180.51 72.5,180.61 74.29,180.68 76.07,180.74 77.86,180.76 79.64,180.74 81.43,180.7 83.21,180.63 85,180.53 86.78,180.42 88.57,180.29 90.35,180.15 92.14,180 93.92,179.84 95.7,179.66 97.49,179.48 99.27,179.29 101.06,179.1 102.84,178.9 104.63,178.69 106.41,178.48 108.2,178.25 109.98,177.99 111.77,177.71 113.55,177.43 115.34,177.17 117.12,176.92 118.91,176.65 120.69,176.36 122.48,176.05 124.26,175.7 126.05,175.3 127.83,174.85 129.62,174.38 131.4,173.92 133.19,173.44 134.97,172.89 136.76,172.24 138.54,171.46 140.32,170.67 142.11,169.9 143.89,169.13 145.68,168.35 147.46,167.55 149.25,166.74 151.03,165.92 152.82,165.1 154.6,164.29 156.39,163.46 158.17,162.6 159.96,161.7 161.74,160.76 163.53,159.76 165.31,158.7 167.1,157.58 168.88,156.4 170.67,155.21 172.45,154 174.24,152.71 176.02,151.3 177.81,149.78 179.59,148.16 181.38,146.39 183.16,144.66 184.94,143.05 186.73,141.49 188.51,139.98 190.3,138.5 192.08,137.24 193.87,136.16 195.65,135.49 197.44,135.03 199.22,135.05 201.01,135.58 202.79,136.7 204.58,138.25 206.36,140.12 208.15,141.98 209.93,143.94 211.72,146 213.5,148.25 215.29,150.93 217.07,153.72 218.86,156.43 220.64,158.85 222.43,160.88 224.21,162.81 226,164.85 227.78,166.81 229.56,168.61 231.35,170.3 233.13,171.93 234.92,173.37 236.7,174.56 238.49,175.58 240.27,176.47 242.06,177.26 243.84,177.93 245.63,178.47 247.41,178.94 249.2,179.32 250.98,179.63 252.77,179.9 254.55,180.13 256.34,180.33 258.12,180.48 259.91,180.62 261.69,180.73 263.48,180.84 265.26,180.92 267.05,180.99 268.83,181.06 270.62,181.1 272.4,181.13 274.18,181.15 275.97,181.17 277.75,181.19 279.54,181.2 281.32,181.2" fill="none" stroke="#800000" stroke-width="1"/>
<path d="M41.51 173.8L47.33 170.47L47.33 177.13Z" fill="#800000"/>
<path d="M45.08 175.7L50.9 172.37L50.9 179.03Z" fill="#800000"/>
<path d="M48.65 177.2L54.47 173.87L54.47 180.53Z" fill="#800000"/>
<path d="M52.22 178.3L58.04 174.97L58.04 181.63Z" fill="#800000"/>
<path d="M55.79 179.1L61.61 175.77L61.61 182.43Z" fill="#800000"/>
<path d="M59.36 179.72L65.18 176.39L65.18 183.05Z" fill="#800000"/>
<path d="M62.93 180.16L68.75 176.83L68.75 183.49Z" fill="#800000"/>
<path d="M66.5 180.46L72.32 177.13L72.32 183.79Z" fill="#800000"/>
<path d="M70.07 180.65L75.89 177.32L75.89 183.97Z" fill="#800000"/>
<path d="M73.64 180.76L79.46 177.43L79.46 184.09Z" fill="#800000"/>
<path d="M77.21 180.72L83.03 177.4L83.03 184.05Z" fill="#800000"/>
<path d="M80.78 180.58L86.6 177.25L86.6 183.91Z" fill="#800000"/>
<path d="M84.35 180.36L90.17 177.03L90.17 183.69Z" fill="#800000"/>
<path d="M87.91 180.08L93.74 176.75L93.74 183.41Z" fill="#800000"/>
<path d="M91.48 179.75L97.31 176.42L97.31 183.08Z" fill="#800000"/>
<path d="M95.05 179.39L100.88 176.06L100.88 182.72Z" fill="#800000"/>
<path d="M98.62 179L104.45 175.67L104.45 182.33Z" fill="#800000"/>
<path d="M102.19 178.59L108.02 175.26L108.02 181.91Z" fill="#800000"/>
<path d="M105.76 178.12L111.59 174.79L111.59 181.45Z" fill="#800000"/>
<path d="M109.33 177.57L115.16 174.24L115.16 180.89Z" fill="#800000"/>
<path d="M112.9 177.05L118.73 173.72L118.73 180.37Z" fill="#800000"/>
<path d="M116.47 176.51L122.3 173.18L122.3 179.83Z" fill="#800000"/>
<path d="M120.04 175.88L125.87 172.55L125.87 179.21Z" fill="#800000"/>
<path d="M123.61 175.08L129.43 171.75L129.43 178.41Z" fill="#800000"/>
<path d="M127.18 174.15L133 170.82L133 177.48Z" fill="#800000"/>
<path d="M130.75 173.17L136.57 169.85L136.57 176.5Z" fill="#800000"/>
<path d="M134.32 171.86L140.14 168.53L140.14 175.18Z" fill="#800000"/>
<path d="M137.89 170.29L143.71 166.96L143.71 173.62Z" fill="#800000"/>
<path d="M141.46 168.74L147.28 165.41L147.28 172.07Z" fill="#800000"/>
<path d="M145.03 167.15L150.85 163.82L150.85 170.47Z" fill="#800000"/>
<path d="M148.6 165.51L154.42 162.18L154.42 168.84Z" fill="#800000"/>
<path d="M152.17 163.88L157.99 160.55L157.99 167.21Z" fill="#800000"/>
<path d="M155.74 162.15L161.56 158.83L161.56 165.48Z" fill="#800000"/>
<path d="M159.31 160.27L165.13 156.94L165.13 163.6Z" fill="#800000"/>
<path d="M162.88 158.14L168.7 154.82L168.7 161.47Z" fill="#800000"/>
<path d="M166.45 155.81L172.27 152.48L172.27 159.13Z" fill="#800000"/>
<path d="M170.02 153.37L175.84 150.04L175.84 156.7Z" fill="#800000"/>
<path d="M173.59 150.55L179.41 147.23L179.41 153.88Z" fill="#800000"/>
<path d="M177.15 147.29L182.98 143.96L182.98 150.62Z" fill="#800000"/>
<path d="M180.72 143.84L186.55 140.52L186.55 147.17Z" fill="#800000"/>
<path d="M184.29 140.74L190.12 137.41L190.12 144.06Z" fill="#800000"/>
<path d="M187.86 137.85L193.69 134.52L193.69 141.17Z" fill="#800000"/>
<path d="M191.43 135.78L197.26 132.45L197.26 139.11Z" fill="#800000"/>
<path d="M195 134.96L200.83 131.63L200.83 138.28Z" fill="#800000"/>
<path d="M198.57 136.03L204.4 132.7L204.4 139.36Z" fill="#800000"/>
<path d="M202.14 139.18L207.97 135.85L207.97 142.5Z" fill="#800000"/>
<path d="M205.71 142.94L211.54 139.61L211.54 146.27Z" fill="#800000"/>
<path d="M209.28 147.09L215.11 143.77L215.11 150.42Z" fill="#800000"/>
<path d="M212.85 152.35L218.67 149.02L218.67 155.68Z" fill="#800000"/>
<path d="M216.42 157.7L222.24 154.37L222.24 161.03Z" fill="#800000"/>
<path d="M219.99 161.83L225.81 158.51L225.81 165.16Z" fill="#800000"/>
<path d="M223.56 165.85L229.38 162.53L229.38 169.18Z" fill="#800000"/>
<path d="M227.13 169.47L232.95 166.14L232.95 172.8Z" fill="#800000"/>
<path d="M230.7 172.69L236.52 169.36L236.52 176.02Z" fill="#800000"/>
<path d="M234.27 175.09L240.09 171.76L240.09 178.41Z" fill="#800000"/>
<path d="M237.84 176.88L243.66 173.55L243.66 180.21Z" fill="#800000"/>
<path d="M241.41 178.21L247.23 174.89L247.23 181.54Z" fill="#800000"/>
<path d="M244.98 179.14L250.8 175.81L250.8 182.47Z" fill="#800000"/>
<path d="M248.55 179.77L254.37 176.44L254.37 183.1Z" fill="#800000"/>
<path d="M252.12 180.23L257.94 176.91L257.94 183.56Z" fill="#800000"/>
<path d="M255.69 180.55L261.51 177.22L261.51 183.88Z" fill="#800000"/>
<path d="M259.26 180.79L265.08 177.46L265.08 184.12Z" fill="#800000"/>
<path d="M262.83 180.96L268.65 177.63L268.65 184.29Z" fill="#800000"/>
<path d="M266.39 181.08L272.22 177.75L272.22 184.41Z" fill="#800000"/>
<path d="M269.96 181.14L275.79 177.81L275.79 184.47Z" fill="#800000"/>
</g>
<rect x="49.3" y="7.5" width="223.1" height="179.7" fill="none" stroke="#111" stroke-width="1.6"/>
<path d="M49.3 187.2V191.4 M71.61 187.2V189.8 M93.92 187.2V191.4 M116.23 187.2V189.8 M138.54 187.2V191.4 M160.85 187.2V189.8 M183.16 187.2V191.4 M205.47 187.2V189.8 M227.78 187.2V191.4 M250.09 187.2V189.8 M272.4 187.2V191.4 M49.3 181.2H45.1 M49.3 152.22H46.7 M49.3 123.25H45.1 M49.3 94.27H46.7 M49.3 65.3H45.1 M49.3 36.32H46.7 M49.3 7.35H45.1" stroke="#111" stroke-width="1.35" fill="none"/>
<text x="49.3" y="199.6" font-size="9" font-weight="bold" text-anchor="middle" fill="#000" stroke="#000" stroke-width="0.162">450</text>
<text x="93.92" y="199.6" font-size="9" font-weight="bold" text-anchor="middle" fill="#000" stroke="#000" stroke-width="0.162">500</text>
<text x="138.54" y="199.6" font-size="9" font-weight="bold" text-anchor="middle" fill="#000" stroke="#000" stroke-width="0.162">550</text>
<text x="183.16" y="199.6" font-size="9" font-weight="bold" text-anchor="middle" fill="#000" stroke="#000" stroke-width="0.162">600</text>
<text x="227.78" y="199.6" font-size="9" font-weight="bold" text-anchor="middle" fill="#000" stroke="#000" stroke-width="0.162">650</text>
<text x="272.4" y="199.6" font-size="9" font-weight="bold" text-anchor="middle" fill="#000" stroke="#000" stroke-width="0.162">700</text>
<text x="43.2" y="183.72" font-size="9" font-weight="bold" text-anchor="end" fill="#000" stroke="#000" stroke-width="0.162">0.0</text>
<text x="43.2" y="125.77" font-size="9" font-weight="bold" text-anchor="end" fill="#000" stroke="#000" stroke-width="0.162">0.5</text>
<text x="43.2" y="67.82" font-size="9" font-weight="bold" text-anchor="end" fill="#000" stroke="#000" stroke-width="0.162">1.0</text>
<text x="43.2" y="9.87" font-size="9" font-weight="bold" text-anchor="end" fill="#000" stroke="#000" stroke-width="0.162">1.5</text>
<text x="118" y="212.5" font-size="10" font-weight="bold" textLength="84.5" lengthAdjust="spacingAndGlyphs" fill="#000" stroke="#000" stroke-width="0.180">Wavelength / nm</text>
<g transform="translate(25.2,141) rotate(-90)"><text x="0" y="0" font-size="10" font-weight="bold" textLength="91" lengthAdjust="spacingAndGlyphs" fill="#000" stroke="#000" stroke-width="0.180">Absorbance / a.u.</text></g>
<line x1="57.6" y1="59.6" x2="73.6" y2="59.6" stroke="#000000" stroke-width="1.7"/>
<rect x="63.02" y="57.02" width="5.15" height="5.15" fill="#000000"/>
<text x="75.6" y="62.91" font-size="9.2" font-weight="bold" fill="#000" stroke="#000" stroke-width="0.166">FG (20 ppm)</text>
<line x1="57.6" y1="71.4" x2="73.6" y2="71.4" stroke="#0000ff" stroke-width="1.7"/>
<circle cx="65.6" cy="71.4" r="2.86" fill="#0000ff"/>
<text x="75.6" y="74.71" font-size="9.2" font-weight="bold" fill="#000" stroke="#000" stroke-width="0.166">Dark (30 mins)</text>
<line x1="57.6" y1="83" x2="73.6" y2="83" stroke="#ff0000" stroke-width="1.7"/>
<path d="M65.6 79.42L69.18 85.69L62.02 85.69Z" fill="#ff0000"/>
<text x="75.6" y="86.31" font-size="9.2" font-weight="bold" fill="#000" stroke="#000" stroke-width="0.166">30 mins</text>
<line x1="57.6" y1="94.4" x2="73.6" y2="94.4" stroke="#808000" stroke-width="1.7"/>
<path d="M65.6 97.98L69.18 91.71L62.02 91.71Z" fill="#808000"/>
<text x="75.6" y="97.71" font-size="9.2" font-weight="bold" fill="#000" stroke="#000" stroke-width="0.166">60 mins</text>
<line x1="57.6" y1="105.8" x2="73.6" y2="105.8" stroke="#000080" stroke-width="1.7"/>
<path d="M65.6 102.22L69.18 105.8L65.6 109.38L62.02 105.8Z" fill="#000080"/>
<text x="75.6" y="109.11" font-size="9.2" font-weight="bold" fill="#000" stroke="#000" stroke-width="0.166">90 mins</text>
<line x1="57.6" y1="117.4" x2="73.6" y2="117.4" stroke="#800000" stroke-width="1.7"/>
<path d="M62.02 117.4L68.29 113.82L68.29 120.98Z" fill="#800000"/>
<text x="75.6" y="120.71" font-size="9.2" font-weight="bold" fill="#000" stroke="#000" stroke-width="0.166">120 mins</text>
<text x="58.6" y="34" font-size="10.4" font-weight="bold" textLength="22.6" lengthAdjust="spacingAndGlyphs" fill="#7c10f4" stroke="#7c10f4" stroke-width="0.187">CuO</text>
<clipPath id="clipb"><rect x="317" y="9" width="222.8" height="179.4"/></clipPath>
<g clip-path="url(#clipb)">
<polyline points="308.09,170.02 309.87,171 311.65,171.94 313.44,172.83 315.22,173.67 317,174.47 318.78,175.24 320.56,175.93 322.35,176.48 324.13,176.94 325.91,177.34 327.69,177.71 329.48,178.06 331.26,178.36 333.04,178.59 334.82,178.78 336.61,178.93 338.39,179 340.17,179.06 341.95,179.1 343.74,179.12 345.52,179.05 347.3,178.89 349.08,178.69 350.87,178.42 352.65,178.08 354.43,177.73 356.21,177.33 358,176.89 359.78,176.44 361.56,175.96 363.34,175.46 365.12,174.94 366.91,174.4 368.69,173.85 370.47,173.28 372.25,172.7 374.04,172.11 375.82,171.47 377.6,170.74 379.38,169.96 381.17,169.19 382.95,168.48 384.73,167.78 386.51,167.03 388.3,166.23 390.08,165.37 391.86,164.42 393.64,163.31 395.43,162.06 397.21,160.76 398.99,159.48 400.77,158.14 402.56,156.64 404.34,154.81 406.12,152.66 407.9,150.46 409.68,148.34 411.47,146.19 413.25,144.02 415.03,141.81 416.81,139.55 418.6,137.28 420.38,135.01 422.16,132.75 423.94,130.45 425.73,128.06 427.51,125.57 429.29,122.96 431.07,120.18 432.86,117.23 434.64,114.11 436.42,110.86 438.2,107.54 439.99,104.18 441.77,100.59 443.55,96.67 445.33,92.46 447.12,87.95 448.9,83.03 450.68,78.21 452.46,73.72 454.24,69.4 456.03,65.18 457.81,61.07 459.59,57.58 461.37,54.57 463.16,52.71 464.94,51.45 466.72,51.51 468.5,52.99 470.29,56.12 472.07,60.46 473.85,65.67 475.63,70.86 477.42,76.34 479.2,82.09 480.98,88.38 482.76,95.84 484.55,103.64 486.33,111.18 488.11,117.95 489.89,123.6 491.68,128.99 493.46,134.68 495.24,140.16 497.02,145.19 498.8,149.9 500.59,154.44 502.37,158.49 504.15,161.79 505.93,164.65 507.72,167.13 509.5,169.36 511.28,171.24 513.06,172.75 514.85,174.05 516.63,175.12 518.41,175.99 520.19,176.76 521.98,177.42 523.76,177.97 525.54,178.4 527.32,178.79 529.11,179.13 530.89,179.43 532.67,179.68 534.45,179.88 536.24,180.06 538.02,180.2 539.8,180.29 541.58,180.36 543.36,180.43 545.15,180.48 546.93,180.51 548.71,180.53" fill="none" stroke="#000000" stroke-width="1"/>
<rect x="310.15" y="170" width="4.78" height="4.78" fill="#000000"/>
<rect x="313.72" y="171.68" width="4.78" height="4.78" fill="#000000"/>
<rect x="317.28" y="173.21" width="4.78" height="4.78" fill="#000000"/>
<rect x="320.85" y="174.33" width="4.78" height="4.78" fill="#000000"/>
<rect x="324.41" y="175.13" width="4.78" height="4.78" fill="#000000"/>
<rect x="327.98" y="175.83" width="4.78" height="4.78" fill="#000000"/>
<rect x="331.54" y="176.3" width="4.78" height="4.78" fill="#000000"/>
<rect x="335.11" y="176.58" width="4.78" height="4.78" fill="#000000"/>
<rect x="338.67" y="176.69" width="4.78" height="4.78" fill="#000000"/>
<rect x="342.24" y="176.71" width="4.78" height="4.78" fill="#000000"/>
<rect x="345.8" y="176.41" width="4.78" height="4.78" fill="#000000"/>
<rect x="349.36" y="175.86" width="4.78" height="4.78" fill="#000000"/>
<rect x="352.93" y="175.14" width="4.78" height="4.78" fill="#000000"/>
<rect x="356.49" y="174.28" width="4.78" height="4.78" fill="#000000"/>
<rect x="360.06" y="173.32" width="4.78" height="4.78" fill="#000000"/>
<rect x="363.62" y="172.28" width="4.78" height="4.78" fill="#000000"/>
<rect x="367.19" y="171.17" width="4.78" height="4.78" fill="#000000"/>
<rect x="370.75" y="170.02" width="4.78" height="4.78" fill="#000000"/>
<rect x="374.32" y="168.72" width="4.78" height="4.78" fill="#000000"/>
<rect x="377.88" y="167.18" width="4.78" height="4.78" fill="#000000"/>
<rect x="381.45" y="165.74" width="4.78" height="4.78" fill="#000000"/>
<rect x="385.01" y="164.25" width="4.78" height="4.78" fill="#000000"/>
<rect x="388.58" y="162.52" width="4.78" height="4.78" fill="#000000"/>
<rect x="392.14" y="160.3" width="4.78" height="4.78" fill="#000000"/>
<rect x="395.71" y="157.73" width="4.78" height="4.78" fill="#000000"/>
<rect x="399.27" y="155.02" width="4.78" height="4.78" fill="#000000"/>
<rect x="402.84" y="151.36" width="4.78" height="4.78" fill="#000000"/>
<rect x="406.4" y="147.01" width="4.78" height="4.78" fill="#000000"/>
<rect x="409.97" y="142.72" width="4.78" height="4.78" fill="#000000"/>
<rect x="413.53" y="138.29" width="4.78" height="4.78" fill="#000000"/>
<rect x="417.1" y="133.75" width="4.78" height="4.78" fill="#000000"/>
<rect x="420.66" y="129.22" width="4.78" height="4.78" fill="#000000"/>
<rect x="424.23" y="124.44" width="4.78" height="4.78" fill="#000000"/>
<rect x="427.79" y="119.2" width="4.78" height="4.78" fill="#000000"/>
<rect x="431.36" y="113.3" width="4.78" height="4.78" fill="#000000"/>
<rect x="434.92" y="106.81" width="4.78" height="4.78" fill="#000000"/>
<rect x="438.48" y="100.03" width="4.78" height="4.78" fill="#000000"/>
<rect x="442.05" y="92.21" width="4.78" height="4.78" fill="#000000"/>
<rect x="445.61" y="83.12" width="4.78" height="4.78" fill="#000000"/>
<rect x="449.18" y="73.55" width="4.78" height="4.78" fill="#000000"/>
<rect x="452.74" y="64.91" width="4.78" height="4.78" fill="#000000"/>
<rect x="456.31" y="56.87" width="4.78" height="4.78" fill="#000000"/>
<rect x="459.87" y="51.14" width="4.78" height="4.78" fill="#000000"/>
<rect x="463.44" y="48.86" width="4.78" height="4.78" fill="#000000"/>
<rect x="467" y="51.87" width="4.78" height="4.78" fill="#000000"/>
<rect x="470.57" y="60.65" width="4.78" height="4.78" fill="#000000"/>
<rect x="474.13" y="71.16" width="4.78" height="4.78" fill="#000000"/>
<rect x="477.7" y="82.75" width="4.78" height="4.78" fill="#000000"/>
<rect x="481.26" y="97.42" width="4.78" height="4.78" fill="#000000"/>
<rect x="484.83" y="112.34" width="4.78" height="4.78" fill="#000000"/>
<rect x="488.39" y="123.88" width="4.78" height="4.78" fill="#000000"/>
<rect x="491.96" y="135.1" width="4.78" height="4.78" fill="#000000"/>
<rect x="495.52" y="145.19" width="4.78" height="4.78" fill="#000000"/>
<rect x="499.09" y="154.18" width="4.78" height="4.78" fill="#000000"/>
<rect x="502.65" y="160.88" width="4.78" height="4.78" fill="#000000"/>
<rect x="506.22" y="165.89" width="4.78" height="4.78" fill="#000000"/>
<rect x="509.78" y="169.63" width="4.78" height="4.78" fill="#000000"/>
<rect x="513.35" y="172.22" width="4.78" height="4.78" fill="#000000"/>
<rect x="516.91" y="174" width="4.78" height="4.78" fill="#000000"/>
<rect x="520.48" y="175.32" width="4.78" height="4.78" fill="#000000"/>
<rect x="524.04" y="176.21" width="4.78" height="4.78" fill="#000000"/>
<rect x="527.6" y="176.9" width="4.78" height="4.78" fill="#000000"/>
<rect x="531.17" y="177.39" width="4.78" height="4.78" fill="#000000"/>
<rect x="534.73" y="177.75" width="4.78" height="4.78" fill="#000000"/>
<rect x="538.3" y="177.93" width="4.78" height="4.78" fill="#000000"/>
<polyline points="308.09,165.4 309.87,166.55 311.65,167.61 313.44,168.59 315.22,169.5 317,170.35 318.78,171.15 320.56,171.86 322.35,172.45 324.13,172.94 325.91,173.38 327.69,173.77 329.48,174.15 331.26,174.47 333.04,174.73 334.82,174.96 336.61,175.14 338.39,175.26 340.17,175.37 341.95,175.45 343.74,175.52 345.52,175.52 347.3,175.44 349.08,175.33 350.87,175.15 352.65,174.92 354.43,174.68 356.21,174.4 358,174.1 359.78,173.78 361.56,173.43 363.34,173.07 365.12,172.7 366.91,172.31 368.69,171.9 370.47,171.48 372.25,171.06 374.04,170.62 375.82,170.15 377.6,169.61 379.38,169.02 381.17,168.45 382.95,167.91 384.73,167.39 386.51,166.83 388.3,166.23 390.08,165.58 391.86,164.85 393.64,164 395.43,163.05 397.21,162.05 398.99,161.06 400.77,160.03 402.56,158.87 404.34,157.45 406.12,155.77 407.9,154.06 409.68,152.41 411.47,150.73 413.25,149.04 415.03,147.31 416.81,145.55 418.6,143.78 420.38,142.01 422.16,140.25 423.94,138.45 425.73,136.58 427.51,134.64 429.29,132.59 431.07,130.41 432.86,128.1 434.64,125.66 436.42,123.1 438.2,120.5 439.99,117.85 441.77,115.04 443.55,111.95 445.33,108.64 447.12,105.08 448.9,101.2 450.68,97.4 452.46,93.86 454.24,90.46 456.03,87.14 457.81,83.9 459.59,81.16 461.37,78.8 463.16,77.35 464.94,76.38 466.72,76.46 468.5,77.68 470.29,80.2 472.07,83.69 473.85,87.87 475.63,92.03 477.42,96.43 479.2,101.04 480.98,106.08 482.76,112.04 484.55,118.28 486.33,124.31 488.11,129.74 489.89,134.27 491.68,138.59 493.46,143.15 495.24,147.55 497.02,151.58 498.8,155.36 500.59,159.01 502.37,162.26 504.15,164.92 505.93,167.23 507.72,169.25 509.5,171.05 511.28,172.58 513.06,173.82 514.85,174.89 516.63,175.77 518.41,176.5 520.19,177.14 521.98,177.7 523.76,178.17 525.54,178.56 527.32,178.9 529.11,179.2 530.89,179.47 532.67,179.7 534.45,179.9 536.24,180.08 538.02,180.23 539.8,180.33 541.58,180.42 543.36,180.51 545.15,180.58 546.93,180.64 548.71,180.69" fill="none" stroke="#0000ff" stroke-width="1"/>
<circle cx="312.54" cy="168.11" r="2.65" fill="#0000ff"/>
<circle cx="316.11" cy="169.93" r="2.65" fill="#0000ff"/>
<circle cx="319.67" cy="171.52" r="2.65" fill="#0000ff"/>
<circle cx="323.24" cy="172.7" r="2.65" fill="#0000ff"/>
<circle cx="326.8" cy="173.58" r="2.65" fill="#0000ff"/>
<circle cx="330.37" cy="174.32" r="2.65" fill="#0000ff"/>
<circle cx="333.93" cy="174.85" r="2.65" fill="#0000ff"/>
<circle cx="337.5" cy="175.21" r="2.65" fill="#0000ff"/>
<circle cx="341.06" cy="175.41" r="2.65" fill="#0000ff"/>
<circle cx="344.63" cy="175.53" r="2.65" fill="#0000ff"/>
<circle cx="348.19" cy="175.39" r="2.65" fill="#0000ff"/>
<circle cx="351.76" cy="175.04" r="2.65" fill="#0000ff"/>
<circle cx="355.32" cy="174.55" r="2.65" fill="#0000ff"/>
<circle cx="358.89" cy="173.94" r="2.65" fill="#0000ff"/>
<circle cx="362.45" cy="173.26" r="2.65" fill="#0000ff"/>
<circle cx="366.02" cy="172.5" r="2.65" fill="#0000ff"/>
<circle cx="369.58" cy="171.69" r="2.65" fill="#0000ff"/>
<circle cx="373.15" cy="170.85" r="2.65" fill="#0000ff"/>
<circle cx="376.71" cy="169.89" r="2.65" fill="#0000ff"/>
<circle cx="380.28" cy="168.73" r="2.65" fill="#0000ff"/>
<circle cx="383.84" cy="167.65" r="2.65" fill="#0000ff"/>
<circle cx="387.4" cy="166.53" r="2.65" fill="#0000ff"/>
<circle cx="390.97" cy="165.23" r="2.65" fill="#0000ff"/>
<circle cx="394.53" cy="163.54" r="2.65" fill="#0000ff"/>
<circle cx="398.1" cy="161.55" r="2.65" fill="#0000ff"/>
<circle cx="401.66" cy="159.47" r="2.65" fill="#0000ff"/>
<circle cx="405.23" cy="156.63" r="2.65" fill="#0000ff"/>
<circle cx="408.79" cy="153.24" r="2.65" fill="#0000ff"/>
<circle cx="412.36" cy="149.89" r="2.65" fill="#0000ff"/>
<circle cx="415.92" cy="146.44" r="2.65" fill="#0000ff"/>
<circle cx="419.49" cy="142.89" r="2.65" fill="#0000ff"/>
<circle cx="423.05" cy="139.36" r="2.65" fill="#0000ff"/>
<circle cx="426.62" cy="135.62" r="2.65" fill="#0000ff"/>
<circle cx="430.18" cy="131.52" r="2.65" fill="#0000ff"/>
<circle cx="433.75" cy="126.9" r="2.65" fill="#0000ff"/>
<circle cx="437.31" cy="121.8" r="2.65" fill="#0000ff"/>
<circle cx="440.88" cy="116.48" r="2.65" fill="#0000ff"/>
<circle cx="444.44" cy="110.32" r="2.65" fill="#0000ff"/>
<circle cx="448.01" cy="103.16" r="2.65" fill="#0000ff"/>
<circle cx="451.57" cy="95.61" r="2.65" fill="#0000ff"/>
<circle cx="455.14" cy="88.81" r="2.65" fill="#0000ff"/>
<circle cx="458.7" cy="82.48" r="2.65" fill="#0000ff"/>
<circle cx="462.27" cy="77.99" r="2.65" fill="#0000ff"/>
<circle cx="465.83" cy="76.24" r="2.65" fill="#0000ff"/>
<circle cx="469.4" cy="78.71" r="2.65" fill="#0000ff"/>
<circle cx="472.96" cy="85.76" r="2.65" fill="#0000ff"/>
<circle cx="476.52" cy="94.19" r="2.65" fill="#0000ff"/>
<circle cx="480.09" cy="103.48" r="2.65" fill="#0000ff"/>
<circle cx="483.65" cy="115.22" r="2.65" fill="#0000ff"/>
<circle cx="487.22" cy="127.16" r="2.65" fill="#0000ff"/>
<circle cx="490.78" cy="136.41" r="2.65" fill="#0000ff"/>
<circle cx="494.35" cy="145.4" r="2.65" fill="#0000ff"/>
<circle cx="497.91" cy="153.5" r="2.65" fill="#0000ff"/>
<circle cx="501.48" cy="160.72" r="2.65" fill="#0000ff"/>
<circle cx="505.04" cy="166.12" r="2.65" fill="#0000ff"/>
<circle cx="508.61" cy="170.18" r="2.65" fill="#0000ff"/>
<circle cx="512.17" cy="173.22" r="2.65" fill="#0000ff"/>
<circle cx="515.74" cy="175.35" r="2.65" fill="#0000ff"/>
<circle cx="519.3" cy="176.83" r="2.65" fill="#0000ff"/>
<circle cx="522.87" cy="177.95" r="2.65" fill="#0000ff"/>
<circle cx="526.43" cy="178.73" r="2.65" fill="#0000ff"/>
<circle cx="530" cy="179.34" r="2.65" fill="#0000ff"/>
<circle cx="533.56" cy="179.81" r="2.65" fill="#0000ff"/>
<circle cx="537.13" cy="180.16" r="2.65" fill="#0000ff"/>
<circle cx="540.69" cy="180.38" r="2.65" fill="#0000ff"/>
<polyline points="308.09,170.8 309.87,171.45 311.65,172.07 313.44,172.67 315.22,173.24 317,173.8 318.78,174.34 320.56,174.83 322.35,175.22 324.13,175.55 325.91,175.84 327.69,176.12 329.48,176.38 331.26,176.61 333.04,176.79 334.82,176.94 336.61,177.06 338.39,177.14 340.17,177.19 341.95,177.24 343.74,177.28 345.52,177.25 347.3,177.15 349.08,177.03 350.87,176.85 352.65,176.63 354.43,176.4 356.21,176.13 358,175.83 359.78,175.53 361.56,175.2 363.34,174.86 365.12,174.51 366.91,174.14 368.69,173.76 370.47,173.37 372.25,172.97 374.04,172.56 375.82,172.12 377.6,171.62 379.38,171.07 381.17,170.54 382.95,170.04 384.73,169.56 386.51,169.04 388.3,168.48 390.08,167.87 391.86,167.2 393.64,166.42 395.43,165.53 397.21,164.61 398.99,163.69 400.77,162.74 402.56,161.67 404.34,160.36 406.12,158.82 407.9,157.24 409.68,155.71 411.47,154.17 413.25,152.61 415.03,151.02 416.81,149.4 418.6,147.77 420.38,146.13 422.16,144.51 423.94,142.86 425.73,141.13 427.51,139.34 429.29,137.46 431.07,135.46 432.86,133.33 434.64,131.08 436.42,128.72 438.2,126.33 439.99,123.9 441.77,121.31 443.55,118.47 445.33,115.42 447.12,112.15 448.9,108.58 450.68,105.08 452.46,101.83 454.24,98.71 456.03,95.65 457.81,92.67 459.59,90.15 461.37,87.98 463.16,86.64 464.94,85.75 466.72,85.81 468.5,86.92 470.29,89.23 472.07,92.43 473.85,96.26 475.63,100.08 477.42,104.11 479.2,108.33 480.98,112.95 482.76,118.42 484.55,124.14 486.33,129.68 488.11,134.65 489.89,138.8 491.68,142.76 493.46,146.95 495.24,150.97 497.02,154.67 498.8,158.14 500.59,161.48 502.37,164.46 504.15,166.9 505.93,169.01 507.72,170.85 509.5,172.51 511.28,173.9 513.06,175.03 514.85,176.01 516.63,176.81 518.41,177.47 520.19,178.06 521.98,178.57 523.76,178.99 525.54,179.34 527.32,179.65 529.11,179.92 530.89,180.16 532.67,180.37 534.45,180.55 536.24,180.71 538.02,180.83 539.8,180.92 541.58,181 543.36,181.07 545.15,181.13 546.93,181.19 548.71,181.23" fill="none" stroke="#ff0000" stroke-width="1"/>
<path d="M312.54 169.04L315.87 174.87L309.22 174.87Z" fill="#ff0000"/>
<path d="M316.11 170.19L319.44 176.02L312.78 176.02Z" fill="#ff0000"/>
<path d="M319.67 171.26L323 177.09L316.35 177.09Z" fill="#ff0000"/>
<path d="M323.24 172.07L326.57 177.89L319.91 177.89Z" fill="#ff0000"/>
<path d="M326.8 172.65L330.13 178.48L323.48 178.48Z" fill="#ff0000"/>
<path d="M330.37 173.17L333.7 179L327.04 179Z" fill="#ff0000"/>
<path d="M333.93 173.54L337.26 179.36L330.6 179.36Z" fill="#ff0000"/>
<path d="M337.5 173.78L340.83 179.6L334.17 179.6Z" fill="#ff0000"/>
<path d="M341.06 173.89L344.39 179.72L337.73 179.72Z" fill="#ff0000"/>
<path d="M344.63 173.95L347.96 179.77L341.3 179.77Z" fill="#ff0000"/>
<path d="M348.19 173.77L351.52 179.59L344.86 179.59Z" fill="#ff0000"/>
<path d="M351.76 173.42L355.08 179.24L348.43 179.24Z" fill="#ff0000"/>
<path d="M355.32 172.94L358.65 178.76L351.99 178.76Z" fill="#ff0000"/>
<path d="M358.89 172.36L362.21 178.18L355.56 178.18Z" fill="#ff0000"/>
<path d="M362.45 171.71L365.78 177.53L359.12 177.53Z" fill="#ff0000"/>
<path d="M366.02 171L369.34 176.82L362.69 176.82Z" fill="#ff0000"/>
<path d="M369.58 170.24L372.91 176.06L366.25 176.06Z" fill="#ff0000"/>
<path d="M373.15 169.44L376.47 175.27L369.82 175.27Z" fill="#ff0000"/>
<path d="M376.71 168.55L380.04 174.37L373.38 174.37Z" fill="#ff0000"/>
<path d="M380.28 167.47L383.6 173.3L376.95 173.3Z" fill="#ff0000"/>
<path d="M383.84 166.47L387.17 172.3L380.51 172.3Z" fill="#ff0000"/>
<path d="M387.4 165.43L390.73 171.26L384.08 171.26Z" fill="#ff0000"/>
<path d="M390.97 164.22L394.3 170.04L387.64 170.04Z" fill="#ff0000"/>
<path d="M394.53 162.65L397.86 168.48L391.21 168.48Z" fill="#ff0000"/>
<path d="M398.1 160.82L401.43 166.65L394.77 166.65Z" fill="#ff0000"/>
<path d="M401.66 158.9L404.99 164.72L398.34 164.72Z" fill="#ff0000"/>
<path d="M405.23 156.28L408.56 162.1L401.9 162.1Z" fill="#ff0000"/>
<path d="M408.79 153.15L412.12 158.98L405.47 158.98Z" fill="#ff0000"/>
<path d="M412.36 150.07L415.69 155.89L409.03 155.89Z" fill="#ff0000"/>
<path d="M415.92 146.89L419.25 152.71L412.6 152.71Z" fill="#ff0000"/>
<path d="M419.49 143.62L422.82 149.44L416.16 149.44Z" fill="#ff0000"/>
<path d="M423.05 140.36L426.38 146.19L419.72 146.19Z" fill="#ff0000"/>
<path d="M426.62 136.92L429.95 142.74L423.29 142.74Z" fill="#ff0000"/>
<path d="M430.18 133.15L433.51 138.97L426.85 138.97Z" fill="#ff0000"/>
<path d="M433.75 128.89L437.08 134.71L430.42 134.71Z" fill="#ff0000"/>
<path d="M437.31 124.2L440.64 130.02L433.98 130.02Z" fill="#ff0000"/>
<path d="M440.88 119.3L444.2 125.13L437.55 125.13Z" fill="#ff0000"/>
<path d="M444.44 113.64L447.77 119.46L441.11 119.46Z" fill="#ff0000"/>
<path d="M448.01 107.05L451.33 112.88L444.68 112.88Z" fill="#ff0000"/>
<path d="M451.57 100.11L454.9 105.94L448.24 105.94Z" fill="#ff0000"/>
<path d="M455.14 93.85L458.46 99.68L451.81 99.68Z" fill="#ff0000"/>
<path d="M458.7 88.04L462.03 93.86L455.37 93.86Z" fill="#ff0000"/>
<path d="M462.27 83.9L465.59 89.72L458.94 89.72Z" fill="#ff0000"/>
<path d="M465.83 82.28L469.16 88.11L462.5 88.11Z" fill="#ff0000"/>
<path d="M469.4 84.54L472.72 90.36L466.07 90.36Z" fill="#ff0000"/>
<path d="M472.96 91L476.29 96.82L469.63 96.82Z" fill="#ff0000"/>
<path d="M476.52 98.73L479.85 104.55L473.2 104.55Z" fill="#ff0000"/>
<path d="M480.09 107.24L483.42 113.07L476.76 113.07Z" fill="#ff0000"/>
<path d="M483.65 118.01L486.98 123.83L480.33 123.83Z" fill="#ff0000"/>
<path d="M487.22 128.96L490.55 134.78L483.89 134.78Z" fill="#ff0000"/>
<path d="M490.78 137.44L494.11 143.26L487.46 143.26Z" fill="#ff0000"/>
<path d="M494.35 145.68L497.68 151.51L491.02 151.51Z" fill="#ff0000"/>
<path d="M497.91 153.1L501.24 158.93L494.59 158.93Z" fill="#ff0000"/>
<path d="M501.48 159.72L504.81 165.54L498.15 165.54Z" fill="#ff0000"/>
<path d="M505.04 164.66L508.37 170.49L501.72 170.49Z" fill="#ff0000"/>
<path d="M508.61 168.38L511.94 174.2L505.28 174.2Z" fill="#ff0000"/>
<path d="M512.17 171.16L515.5 176.98L508.84 176.98Z" fill="#ff0000"/>
<path d="M515.74 173.1L519.07 178.93L512.41 178.93Z" fill="#ff0000"/>
<path d="M519.3 174.45L522.63 180.27L515.97 180.27Z" fill="#ff0000"/>
<path d="M522.87 175.46L526.2 181.29L519.54 181.29Z" fill="#ff0000"/>
<path d="M526.43 176.17L529.76 181.99L523.1 181.99Z" fill="#ff0000"/>
<path d="M530 176.72L533.32 182.54L526.67 182.54Z" fill="#ff0000"/>
<path d="M533.56 177.13L536.89 182.96L530.23 182.96Z" fill="#ff0000"/>
<path d="M537.13 177.45L540.45 183.27L533.8 183.27Z" fill="#ff0000"/>
<path d="M540.69 177.63L544.02 183.46L537.36 183.46Z" fill="#ff0000"/>
<polyline points="308.09,171.77 309.87,172.7 311.65,173.56 313.44,174.33 315.22,175.04 317,175.69 318.78,176.29 320.56,176.83 322.35,177.27 324.13,177.64 325.91,177.96 327.69,178.26 329.48,178.53 331.26,178.76 333.04,178.95 334.82,179.11 336.61,179.24 338.39,179.32 340.17,179.39 341.95,179.45 343.74,179.5 345.52,179.49 347.3,179.43 349.08,179.36 350.87,179.24 352.65,179.08 354.43,178.92 356.21,178.73 358,178.52 359.78,178.3 361.56,178.07 363.34,177.82 365.12,177.57 366.91,177.3 368.69,177.02 370.47,176.74 372.25,176.45 374.04,176.15 375.82,175.83 377.6,175.47 379.38,175.07 381.17,174.68 382.95,174.32 384.73,173.97 386.51,173.59 388.3,173.19 390.08,172.75 391.86,172.26 393.64,171.69 395.43,171.05 397.21,170.39 398.99,169.73 400.77,169.04 402.56,168.27 404.34,167.32 406.12,166.21 407.9,165.08 409.68,163.98 411.47,162.87 413.25,161.75 415.03,160.6 416.81,159.44 418.6,158.26 420.38,157.09 422.16,155.92 423.94,154.73 425.73,153.49 427.51,152.2 429.29,150.85 431.07,149.41 432.86,147.88 434.64,146.26 436.42,144.57 438.2,142.85 439.99,141.1 441.77,139.24 443.55,137.2 445.33,135.01 447.12,132.67 448.9,130.11 450.68,127.6 452.46,125.27 454.24,123.02 456.03,120.83 457.81,118.69 459.59,116.88 461.37,115.32 463.16,114.36 464.94,113.71 466.72,113.75 468.5,114.54 470.29,116.19 472.07,118.47 473.85,121.2 475.63,123.92 477.42,126.8 479.2,129.82 480.98,133.12 482.76,137.03 484.55,141.11 486.33,145.07 488.11,148.62 489.89,151.58 491.68,154.41 493.46,157.4 495.24,160.27 497.02,162.91 498.8,165.39 500.59,167.77 502.37,169.9 504.15,171.63 505.93,173.14 507.72,174.45 509.5,175.63 511.28,176.62 513.06,177.42 514.85,178.11 516.63,178.69 518.41,179.15 520.19,179.57 521.98,179.92 523.76,180.22 525.54,180.46 527.32,180.68 529.11,180.87 530.89,181.03 532.67,181.17 534.45,181.29 536.24,181.4 538.02,181.48 539.8,181.54 541.58,181.59 543.36,181.63 545.15,181.67 546.93,181.7 548.71,181.73" fill="none" stroke="#808000" stroke-width="1"/>
<path d="M312.54 177.28L315.87 171.46L309.22 171.46Z" fill="#808000"/>
<path d="M316.11 178.7L319.44 172.88L312.78 172.88Z" fill="#808000"/>
<path d="M319.67 179.9L323 174.08L316.35 174.08Z" fill="#808000"/>
<path d="M323.24 180.79L326.57 174.97L319.91 174.97Z" fill="#808000"/>
<path d="M326.8 181.44L330.13 175.62L323.48 175.62Z" fill="#808000"/>
<path d="M330.37 181.98L333.7 176.15L327.04 176.15Z" fill="#808000"/>
<path d="M333.93 182.36L337.26 176.53L330.6 176.53Z" fill="#808000"/>
<path d="M337.5 182.61L340.83 176.79L334.17 176.79Z" fill="#808000"/>
<path d="M341.06 182.75L344.39 176.93L337.73 176.93Z" fill="#808000"/>
<path d="M344.63 182.83L347.96 177.01L341.3 177.01Z" fill="#808000"/>
<path d="M348.19 182.73L351.52 176.9L344.86 176.9Z" fill="#808000"/>
<path d="M351.76 182.49L355.08 176.67L348.43 176.67Z" fill="#808000"/>
<path d="M355.32 182.15L358.65 176.33L351.99 176.33Z" fill="#808000"/>
<path d="M358.89 181.74L362.21 175.92L355.56 175.92Z" fill="#808000"/>
<path d="M362.45 181.27L365.78 175.45L359.12 175.45Z" fill="#808000"/>
<path d="M366.02 180.76L369.34 174.94L362.69 174.94Z" fill="#808000"/>
<path d="M369.58 180.21L372.91 174.39L366.25 174.39Z" fill="#808000"/>
<path d="M373.15 179.63L376.47 173.81L369.82 173.81Z" fill="#808000"/>
<path d="M376.71 178.98L380.04 173.16L373.38 173.16Z" fill="#808000"/>
<path d="M380.28 178.2L383.6 172.38L376.95 172.38Z" fill="#808000"/>
<path d="M383.84 177.48L387.17 171.65L380.51 171.65Z" fill="#808000"/>
<path d="M387.4 176.72L390.73 170.9L384.08 170.9Z" fill="#808000"/>
<path d="M390.97 175.84L394.3 170.02L387.64 170.02Z" fill="#808000"/>
<path d="M394.53 174.71L397.86 168.88L391.21 168.88Z" fill="#808000"/>
<path d="M398.1 173.39L401.43 167.56L394.77 167.56Z" fill="#808000"/>
<path d="M401.66 172L404.99 166.17L398.34 166.17Z" fill="#808000"/>
<path d="M405.23 170.11L408.56 164.28L401.9 164.28Z" fill="#808000"/>
<path d="M408.79 167.86L412.12 162.03L405.47 162.03Z" fill="#808000"/>
<path d="M412.36 165.64L415.69 159.81L409.03 159.81Z" fill="#808000"/>
<path d="M415.92 163.35L419.25 157.52L412.6 157.52Z" fill="#808000"/>
<path d="M419.49 161L422.82 155.17L416.16 155.17Z" fill="#808000"/>
<path d="M423.05 158.66L426.38 152.83L419.72 152.83Z" fill="#808000"/>
<path d="M426.62 156.18L429.95 150.35L423.29 150.35Z" fill="#808000"/>
<path d="M430.18 153.47L433.51 147.64L426.85 147.64Z" fill="#808000"/>
<path d="M433.75 150.41L437.08 144.58L430.42 144.58Z" fill="#808000"/>
<path d="M437.31 147.04L440.64 141.21L433.98 141.21Z" fill="#808000"/>
<path d="M440.88 143.52L444.2 137.7L437.55 137.7Z" fill="#808000"/>
<path d="M444.44 139.45L447.77 133.63L441.11 133.63Z" fill="#808000"/>
<path d="M448.01 134.73L451.33 128.91L444.68 128.91Z" fill="#808000"/>
<path d="M451.57 129.75L454.9 123.92L448.24 123.92Z" fill="#808000"/>
<path d="M455.14 125.26L458.46 119.43L451.81 119.43Z" fill="#808000"/>
<path d="M458.7 121.08L462.03 115.26L455.37 115.26Z" fill="#808000"/>
<path d="M462.27 118.11L465.59 112.28L458.94 112.28Z" fill="#808000"/>
<path d="M465.83 116.94L469.16 111.12L462.5 111.12Z" fill="#808000"/>
<path d="M469.4 118.54L472.72 112.72L466.07 112.72Z" fill="#808000"/>
<path d="M472.96 123.15L476.29 117.33L469.63 117.33Z" fill="#808000"/>
<path d="M476.52 128.67L479.85 122.84L473.2 122.84Z" fill="#808000"/>
<path d="M480.09 134.75L483.42 128.92L476.76 128.92Z" fill="#808000"/>
<path d="M483.65 142.44L486.98 136.61L480.33 136.61Z" fill="#808000"/>
<path d="M487.22 150.26L490.55 144.44L483.89 144.44Z" fill="#808000"/>
<path d="M490.78 156.31L494.11 150.49L487.46 150.49Z" fill="#808000"/>
<path d="M494.35 162.2L497.68 156.38L491.02 156.38Z" fill="#808000"/>
<path d="M497.91 167.5L501.24 161.67L494.59 161.67Z" fill="#808000"/>
<path d="M501.48 172.22L504.81 166.39L498.15 166.39Z" fill="#808000"/>
<path d="M505.04 175.74L508.37 169.92L501.72 169.92Z" fill="#808000"/>
<path d="M508.61 178.39L511.94 172.56L505.28 172.56Z" fill="#808000"/>
<path d="M512.17 180.36L515.5 174.54L508.84 174.54Z" fill="#808000"/>
<path d="M515.74 181.74L519.07 175.92L512.41 175.92Z" fill="#808000"/>
<path d="M519.3 182.69L522.63 176.87L515.97 176.87Z" fill="#808000"/>
<path d="M522.87 183.41L526.2 177.58L519.54 177.58Z" fill="#808000"/>
<path d="M526.43 183.9L529.76 178.08L523.1 178.08Z" fill="#808000"/>
<path d="M530 184.28L533.32 178.46L526.67 178.46Z" fill="#808000"/>
<path d="M533.56 184.56L536.89 178.74L530.23 178.74Z" fill="#808000"/>
<path d="M537.13 184.77L540.45 178.95L533.8 178.95Z" fill="#808000"/>
<path d="M540.69 184.89L544.02 179.07L537.36 179.07Z" fill="#808000"/>
<polyline points="308.09,173.15 309.87,174.17 311.65,175.08 313.44,175.89 315.22,176.61 317,177.26 318.78,177.85 320.56,178.37 322.35,178.81 324.13,179.17 325.91,179.48 327.69,179.76 329.48,180.02 331.26,180.24 333.04,180.41 334.82,180.57 336.61,180.69 338.39,180.78 340.17,180.85 341.95,180.91 343.74,180.95 345.52,180.96 347.3,180.93 349.08,180.88 350.87,180.8 352.65,180.69 354.43,180.57 356.21,180.44 358,180.29 359.78,180.13 361.56,179.96 363.34,179.78 365.12,179.59 366.91,179.39 368.69,179.19 370.47,178.98 372.25,178.77 374.04,178.55 375.82,178.31 377.6,178.05 379.38,177.75 381.17,177.47 382.95,177.2 384.73,176.94 386.51,176.66 388.3,176.36 390.08,176.04 391.86,175.69 393.64,175.27 395.43,174.8 397.21,174.31 398.99,173.83 400.77,173.33 402.56,172.76 404.34,172.07 406.12,171.26 407.9,170.43 409.68,169.63 411.47,168.82 413.25,168 415.03,167.16 416.81,166.31 418.6,165.46 420.38,164.6 422.16,163.75 423.94,162.88 425.73,161.97 427.51,161.04 429.29,160.05 431.07,159 432.86,157.88 434.64,156.7 436.42,155.47 438.2,154.22 439.99,152.95 441.77,151.59 443.55,150.11 445.33,148.52 447.12,146.81 448.9,144.95 450.68,143.12 452.46,141.43 454.24,139.79 456.03,138.2 457.81,136.64 459.59,135.32 461.37,134.18 463.16,133.48 464.94,133.01 466.72,133.03 468.5,133.6 470.29,134.79 472.07,136.44 473.85,138.42 475.63,140.39 477.42,142.47 479.2,144.66 480.98,147.05 482.76,149.88 484.55,152.84 486.33,155.7 488.11,158.28 489.89,160.43 491.68,162.47 493.46,164.63 495.24,166.72 497.02,168.63 498.8,170.42 500.59,172.14 502.37,173.68 504.15,174.94 505.93,176.02 507.72,176.97 509.5,177.82 511.28,178.54 513.06,179.11 514.85,179.61 516.63,180.02 518.41,180.35 520.19,180.65 521.98,180.9 523.76,181.11 525.54,181.29 527.32,181.44 529.11,181.57 530.89,181.69 532.67,181.78 534.45,181.87 536.24,181.94 538.02,181.99 539.8,182.03 541.58,182.06 543.36,182.09 545.15,182.11 546.93,182.13 548.71,182.14" fill="none" stroke="#000080" stroke-width="1"/>
<path d="M312.54 172.16L315.87 175.49L312.54 178.82L309.22 175.49Z" fill="#000080"/>
<path d="M316.11 173.62L319.44 176.94L316.11 180.27L312.78 176.94Z" fill="#000080"/>
<path d="M319.67 174.8L323 178.12L319.67 181.45L316.35 178.12Z" fill="#000080"/>
<path d="M323.24 175.67L326.57 178.99L323.24 182.32L319.91 178.99Z" fill="#000080"/>
<path d="M326.8 176.3L330.13 179.63L326.8 182.96L323.48 179.63Z" fill="#000080"/>
<path d="M330.37 176.81L333.7 180.13L330.37 183.46L327.04 180.13Z" fill="#000080"/>
<path d="M333.93 177.16L337.26 180.49L333.93 183.82L330.6 180.49Z" fill="#000080"/>
<path d="M337.5 177.41L340.83 180.74L337.5 184.06L334.17 180.74Z" fill="#000080"/>
<path d="M341.06 177.55L344.39 180.88L341.06 184.21L337.73 180.88Z" fill="#000080"/>
<path d="M344.63 177.64L347.96 180.96L344.63 184.29L341.3 180.96Z" fill="#000080"/>
<path d="M348.19 177.58L351.52 180.91L348.19 184.23L344.86 180.91Z" fill="#000080"/>
<path d="M351.76 177.42L355.08 180.74L351.76 184.07L348.43 180.74Z" fill="#000080"/>
<path d="M355.32 177.18L358.65 180.51L355.32 183.83L351.99 180.51Z" fill="#000080"/>
<path d="M358.89 176.88L362.21 180.21L358.89 183.54L355.56 180.21Z" fill="#000080"/>
<path d="M362.45 176.54L365.78 179.87L362.45 183.2L359.12 179.87Z" fill="#000080"/>
<path d="M366.02 176.16L369.34 179.49L366.02 182.82L362.69 179.49Z" fill="#000080"/>
<path d="M369.58 175.76L372.91 179.09L369.58 182.41L366.25 179.09Z" fill="#000080"/>
<path d="M373.15 175.33L376.47 178.66L373.15 181.99L369.82 178.66Z" fill="#000080"/>
<path d="M376.71 174.86L380.04 178.18L376.71 181.51L373.38 178.18Z" fill="#000080"/>
<path d="M380.28 174.28L383.6 177.61L380.28 180.94L376.95 177.61Z" fill="#000080"/>
<path d="M383.84 173.75L387.17 177.07L383.84 180.4L380.51 177.07Z" fill="#000080"/>
<path d="M387.4 173.19L390.73 176.52L387.4 179.84L384.08 176.52Z" fill="#000080"/>
<path d="M390.97 172.54L394.3 175.87L390.97 179.2L387.64 175.87Z" fill="#000080"/>
<path d="M394.53 171.71L397.86 175.04L394.53 178.37L391.21 175.04Z" fill="#000080"/>
<path d="M398.1 170.74L401.43 174.07L398.1 177.4L394.77 174.07Z" fill="#000080"/>
<path d="M401.66 169.72L404.99 173.05L401.66 176.38L398.34 173.05Z" fill="#000080"/>
<path d="M405.23 168.35L408.56 171.67L405.23 175L401.9 171.67Z" fill="#000080"/>
<path d="M408.79 166.7L412.12 170.03L408.79 173.36L405.47 170.03Z" fill="#000080"/>
<path d="M412.36 165.08L415.69 168.41L412.36 171.74L409.03 168.41Z" fill="#000080"/>
<path d="M415.92 163.41L419.25 166.74L415.92 170.07L412.6 166.74Z" fill="#000080"/>
<path d="M419.49 161.7L422.82 165.03L419.49 168.35L416.16 165.03Z" fill="#000080"/>
<path d="M423.05 159.99L426.38 163.32L423.05 166.64L419.72 163.32Z" fill="#000080"/>
<path d="M426.62 158.18L429.95 161.51L426.62 164.84L423.29 161.51Z" fill="#000080"/>
<path d="M430.18 156.2L433.51 159.53L430.18 162.86L426.85 159.53Z" fill="#000080"/>
<path d="M433.75 153.97L437.08 157.3L433.75 160.63L430.42 157.3Z" fill="#000080"/>
<path d="M437.31 151.52L440.64 154.85L437.31 158.18L433.98 154.85Z" fill="#000080"/>
<path d="M440.88 148.96L444.2 152.29L440.88 155.61L437.55 152.29Z" fill="#000080"/>
<path d="M444.44 146L447.77 149.33L444.44 152.65L441.11 149.33Z" fill="#000080"/>
<path d="M448.01 142.56L451.33 145.89L448.01 149.22L444.68 145.89Z" fill="#000080"/>
<path d="M451.57 138.94L454.9 142.27L451.57 145.59L448.24 142.27Z" fill="#000080"/>
<path d="M455.14 135.67L458.46 139L455.14 142.33L451.81 139Z" fill="#000080"/>
<path d="M458.7 132.63L462.03 135.96L458.7 139.29L455.37 135.96Z" fill="#000080"/>
<path d="M462.27 130.46L465.59 133.79L462.27 137.12L458.94 133.79Z" fill="#000080"/>
<path d="M465.83 129.61L469.16 132.93L465.83 136.26L462.5 132.93Z" fill="#000080"/>
<path d="M469.4 130.76L472.72 134.09L469.4 137.41L466.07 134.09Z" fill="#000080"/>
<path d="M472.96 134.09L476.29 137.42L472.96 140.75L469.63 137.42Z" fill="#000080"/>
<path d="M476.52 138.09L479.85 141.41L476.52 144.74L473.2 141.41Z" fill="#000080"/>
<path d="M480.09 142.49L483.42 145.82L480.09 149.15L476.76 145.82Z" fill="#000080"/>
<path d="M483.65 148.06L486.98 151.39L483.65 154.72L480.33 151.39Z" fill="#000080"/>
<path d="M487.22 153.73L490.55 157.06L487.22 160.38L483.89 157.06Z" fill="#000080"/>
<path d="M490.78 158.11L494.11 161.44L490.78 164.77L487.46 161.44Z" fill="#000080"/>
<path d="M494.35 162.37L497.68 165.7L494.35 169.03L491.02 165.7Z" fill="#000080"/>
<path d="M497.91 166.21L501.24 169.54L497.91 172.86L494.59 169.54Z" fill="#000080"/>
<path d="M501.48 169.62L504.81 172.95L501.48 176.28L498.15 172.95Z" fill="#000080"/>
<path d="M505.04 172.17L508.37 175.5L505.04 178.83L501.72 175.5Z" fill="#000080"/>
<path d="M508.61 174.08L511.94 177.41L508.61 180.74L505.28 177.41Z" fill="#000080"/>
<path d="M512.17 175.51L515.5 178.84L512.17 182.16L508.84 178.84Z" fill="#000080"/>
<path d="M515.74 176.5L519.07 179.83L515.74 183.16L512.41 179.83Z" fill="#000080"/>
<path d="M519.3 177.18L522.63 180.51L519.3 183.84L515.97 180.51Z" fill="#000080"/>
<path d="M522.87 177.69L526.2 181.02L522.87 184.34L519.54 181.02Z" fill="#000080"/>
<path d="M526.43 178.04L529.76 181.36L526.43 184.69L523.1 181.36Z" fill="#000080"/>
<path d="M530 178.3L533.32 181.63L530 184.96L526.67 181.63Z" fill="#000080"/>
<path d="M533.56 178.5L536.89 181.83L533.56 185.15L530.23 181.83Z" fill="#000080"/>
<path d="M537.13 178.64L540.45 181.97L537.13 185.3L533.8 181.97Z" fill="#000080"/>
<path d="M540.69 178.72L544.02 182.05L540.69 185.38L537.36 182.05Z" fill="#000080"/>
<polyline points="308.09,177.05 309.87,177.78 311.65,178.44 313.44,179.02 315.22,179.53 317,179.99 318.78,180.41 320.56,180.78 322.35,181.08 324.13,181.33 325.91,181.55 327.69,181.75 329.48,181.92 331.26,182.07 333.04,182.19 334.82,182.3 336.61,182.38 338.39,182.44 340.17,182.49 341.95,182.53 343.74,182.55 345.52,182.56 347.3,182.53 349.08,182.5 350.87,182.44 352.65,182.37 354.43,182.29 356.21,182.2 358,182.09 359.78,181.98 361.56,181.87 363.34,181.74 365.12,181.62 366.91,181.48 368.69,181.35 370.47,181.2 372.25,181.06 374.04,180.91 375.82,180.75 377.6,180.57 379.38,180.37 381.17,180.18 382.95,180 384.73,179.82 386.51,179.64 388.3,179.43 390.08,179.22 391.86,178.98 393.64,178.7 395.43,178.39 397.21,178.06 398.99,177.74 400.77,177.4 402.56,177.02 404.34,176.56 406.12,176.03 407.9,175.48 409.68,174.94 411.47,174.41 413.25,173.86 415.03,173.31 416.81,172.74 418.6,172.17 420.38,171.6 422.16,171.04 423.94,170.46 425.73,169.86 427.51,169.24 429.29,168.58 431.07,167.89 432.86,167.15 434.64,166.37 436.42,165.55 438.2,164.72 439.99,163.88 441.77,162.98 443.55,162 445.33,160.95 447.12,159.82 448.9,158.59 450.68,157.38 452.46,156.26 454.24,155.18 456.03,154.13 457.81,153.1 459.59,152.22 461.37,151.47 463.16,151 464.94,150.69 466.72,150.7 468.5,151.07 470.29,151.85 472.07,152.93 473.85,154.23 475.63,155.52 477.42,156.88 479.2,158.32 480.98,159.89 482.76,161.74 484.55,163.69 486.33,165.57 488.11,167.26 489.89,168.67 491.68,170.01 493.46,171.43 495.24,172.79 497.02,174.05 498.8,175.22 500.59,176.35 502.37,177.36 504.15,178.18 505.93,178.89 507.72,179.51 509.5,180.06 511.28,180.53 513.06,180.9 514.85,181.23 516.63,181.49 518.41,181.71 520.19,181.9 521.98,182.06 523.76,182.19 525.54,182.3 527.32,182.39 529.11,182.48 530.89,182.55 532.67,182.61 534.45,182.66 536.24,182.7 538.02,182.73 539.8,182.75 541.58,182.77 543.36,182.78 545.15,182.79 546.93,182.8 548.71,182.8" fill="none" stroke="#800000" stroke-width="1"/>
<path d="M309.22 178.73L315.04 175.41L315.04 182.06Z" fill="#800000"/>
<path d="M312.78 179.77L318.6 176.44L318.6 183.1Z" fill="#800000"/>
<path d="M316.35 180.6L322.17 177.27L322.17 183.93Z" fill="#800000"/>
<path d="M319.91 181.21L325.73 177.88L325.73 184.54Z" fill="#800000"/>
<path d="M323.48 181.65L329.3 178.33L329.3 184.98Z" fill="#800000"/>
<path d="M327.04 182L332.86 178.67L332.86 185.33Z" fill="#800000"/>
<path d="M330.6 182.25L336.43 178.92L336.43 185.58Z" fill="#800000"/>
<path d="M334.17 182.41L339.99 179.08L339.99 185.74Z" fill="#800000"/>
<path d="M337.73 182.51L343.56 179.18L343.56 185.84Z" fill="#800000"/>
<path d="M341.3 182.56L347.12 179.23L347.12 185.89Z" fill="#800000"/>
<path d="M344.86 182.52L350.69 179.19L350.69 185.85Z" fill="#800000"/>
<path d="M348.43 182.41L354.25 179.08L354.25 185.73Z" fill="#800000"/>
<path d="M351.99 182.24L357.82 178.92L357.82 185.57Z" fill="#800000"/>
<path d="M355.56 182.04L361.38 178.71L361.38 185.37Z" fill="#800000"/>
<path d="M359.12 181.81L364.95 178.48L364.95 185.13Z" fill="#800000"/>
<path d="M362.69 181.55L368.51 178.22L368.51 184.88Z" fill="#800000"/>
<path d="M366.25 181.28L372.08 177.95L372.08 184.6Z" fill="#800000"/>
<path d="M369.82 180.99L375.64 177.66L375.64 184.32Z" fill="#800000"/>
<path d="M373.38 180.66L379.21 177.34L379.21 183.99Z" fill="#800000"/>
<path d="M376.95 180.28L382.77 176.95L382.77 183.6Z" fill="#800000"/>
<path d="M380.51 179.91L386.34 176.59L386.34 183.24Z" fill="#800000"/>
<path d="M384.08 179.54L389.9 176.21L389.9 182.87Z" fill="#800000"/>
<path d="M387.64 179.1L393.47 175.77L393.47 182.43Z" fill="#800000"/>
<path d="M391.21 178.55L397.03 175.22L397.03 181.87Z" fill="#800000"/>
<path d="M394.77 177.9L400.6 174.57L400.6 181.23Z" fill="#800000"/>
<path d="M398.34 177.22L404.16 173.89L404.16 180.55Z" fill="#800000"/>
<path d="M401.9 176.3L407.72 172.97L407.72 179.63Z" fill="#800000"/>
<path d="M405.47 175.21L411.29 171.88L411.29 178.54Z" fill="#800000"/>
<path d="M409.03 174.13L414.85 170.81L414.85 177.46Z" fill="#800000"/>
<path d="M412.6 173.02L418.42 169.7L418.42 176.35Z" fill="#800000"/>
<path d="M416.16 171.89L421.98 168.56L421.98 175.21Z" fill="#800000"/>
<path d="M419.72 170.75L425.55 167.42L425.55 174.08Z" fill="#800000"/>
<path d="M423.29 169.55L429.11 166.22L429.11 172.88Z" fill="#800000"/>
<path d="M426.85 168.24L432.68 164.91L432.68 171.57Z" fill="#800000"/>
<path d="M430.42 166.76L436.24 163.44L436.24 170.09Z" fill="#800000"/>
<path d="M433.98 165.14L439.81 161.81L439.81 168.47Z" fill="#800000"/>
<path d="M437.55 163.44L443.37 160.11L443.37 166.77Z" fill="#800000"/>
<path d="M441.11 161.48L446.94 158.16L446.94 164.81Z" fill="#800000"/>
<path d="M444.68 159.21L450.5 155.88L450.5 162.54Z" fill="#800000"/>
<path d="M448.24 156.82L454.07 153.49L454.07 160.15Z" fill="#800000"/>
<path d="M451.81 154.66L457.63 151.33L457.63 157.98Z" fill="#800000"/>
<path d="M455.37 152.65L461.2 149.32L461.2 155.97Z" fill="#800000"/>
<path d="M458.94 151.21L464.76 147.88L464.76 154.54Z" fill="#800000"/>
<path d="M462.5 150.64L468.33 147.31L468.33 153.96Z" fill="#800000"/>
<path d="M466.07 151.38L471.89 148.06L471.89 154.71Z" fill="#800000"/>
<path d="M469.63 153.57L475.46 150.24L475.46 156.9Z" fill="#800000"/>
<path d="M473.2 156.19L479.02 152.86L479.02 159.52Z" fill="#800000"/>
<path d="M476.76 159.08L482.59 155.75L482.59 162.41Z" fill="#800000"/>
<path d="M480.33 162.73L486.15 159.41L486.15 166.06Z" fill="#800000"/>
<path d="M483.89 166.45L489.72 163.13L489.72 169.78Z" fill="#800000"/>
<path d="M487.46 169.33L493.28 166L493.28 172.66Z" fill="#800000"/>
<path d="M491.02 172.13L496.84 168.8L496.84 175.45Z" fill="#800000"/>
<path d="M494.59 174.64L500.41 171.31L500.41 177.97Z" fill="#800000"/>
<path d="M498.15 176.88L503.97 173.55L503.97 180.21Z" fill="#800000"/>
<path d="M501.72 178.55L507.54 175.22L507.54 181.88Z" fill="#800000"/>
<path d="M505.28 179.79L511.1 176.47L511.1 183.12Z" fill="#800000"/>
<path d="M508.84 180.72L514.67 177.39L514.67 184.05Z" fill="#800000"/>
<path d="M512.41 181.37L518.23 178.04L518.23 184.69Z" fill="#800000"/>
<path d="M515.97 181.8L521.8 178.48L521.8 185.13Z" fill="#800000"/>
<path d="M519.54 182.13L525.36 178.8L525.36 185.46Z" fill="#800000"/>
<path d="M523.1 182.35L528.93 179.02L528.93 185.68Z" fill="#800000"/>
<path d="M526.67 182.51L532.49 179.19L532.49 185.84Z" fill="#800000"/>
<path d="M530.23 182.63L536.06 179.3L536.06 185.96Z" fill="#800000"/>
<path d="M533.8 182.72L539.62 179.39L539.62 186.05Z" fill="#800000"/>
<path d="M537.36 182.76L543.19 179.43L543.19 186.09Z" fill="#800000"/>
</g>
<rect x="317" y="9" width="222.8" height="179.4" fill="none" stroke="#111" stroke-width="1.6"/>
<path d="M317 188.4V192.6 M339.28 188.4V191 M361.56 188.4V192.6 M383.84 188.4V191 M406.12 188.4V192.6 M428.4 188.4V191 M450.68 188.4V192.6 M472.96 188.4V191 M495.24 188.4V192.6 M517.52 188.4V191 M539.8 188.4V192.6 M317 182.8H312.8 M317 153.88H314.4 M317 124.95H312.8 M317 96.03H314.4 M317 67.1H312.8 M317 38.18H314.4 M317 9.25H312.8" stroke="#111" stroke-width="1.35" fill="none"/>
<text x="317" y="200.9" font-size="9" font-weight="bold" text-anchor="middle" fill="#000" stroke="#000" stroke-width="0.162">450</text>
<text x="361.56" y="200.9" font-size="9" font-weight="bold" text-anchor="middle" fill="#000" stroke="#000" stroke-width="0.162">500</text>
<text x="406.12" y="200.9" font-size="9" font-weight="bold" text-anchor="middle" fill="#000" stroke="#000" stroke-width="0.162">550</text>
<text x="450.68" y="200.9" font-size="9" font-weight="bold" text-anchor="middle" fill="#000" stroke="#000" stroke-width="0.162">600</text>
<text x="495.24" y="200.9" font-size="9" font-weight="bold" text-anchor="middle" fill="#000" stroke="#000" stroke-width="0.162">650</text>
<text x="539.8" y="200.9" font-size="9" font-weight="bold" text-anchor="middle" fill="#000" stroke="#000" stroke-width="0.162">700</text>
<text x="311.2" y="185.32" font-size="9" font-weight="bold" text-anchor="end" fill="#000" stroke="#000" stroke-width="0.162">0.0</text>
<text x="311.2" y="127.47" font-size="9" font-weight="bold" text-anchor="end" fill="#000" stroke="#000" stroke-width="0.162">0.5</text>
<text x="311.2" y="69.62" font-size="9" font-weight="bold" text-anchor="end" fill="#000" stroke="#000" stroke-width="0.162">1.0</text>
<text x="311.2" y="11.77" font-size="9" font-weight="bold" text-anchor="end" fill="#000" stroke="#000" stroke-width="0.162">1.5</text>
<text x="386.8" y="213.6" font-size="10" font-weight="bold" textLength="83.5" lengthAdjust="spacingAndGlyphs" fill="#000" stroke="#000" stroke-width="0.180">Wavelength / nm</text>
<g transform="translate(293.5,142.6) rotate(-90)"><text x="0" y="0" font-size="10" font-weight="bold" textLength="91" lengthAdjust="spacingAndGlyphs" fill="#000" stroke="#000" stroke-width="0.180">Absorbance / a.u.</text></g>
<line x1="325.9" y1="61.2" x2="341.6" y2="61.2" stroke="#000000" stroke-width="1.7"/>
<rect x="331.17" y="58.62" width="5.15" height="5.15" fill="#000000"/>
<text x="342.8" y="64.51" font-size="9.2" font-weight="bold" fill="#000" stroke="#000" stroke-width="0.166">FG (20 ppm)</text>
<line x1="325.9" y1="72.7" x2="341.6" y2="72.7" stroke="#0000ff" stroke-width="1.7"/>
<circle cx="333.75" cy="72.7" r="2.86" fill="#0000ff"/>
<text x="342.8" y="76.01" font-size="9.2" font-weight="bold" fill="#000" stroke="#000" stroke-width="0.166">Dark (30 mins)</text>
<line x1="325.9" y1="84.3" x2="341.6" y2="84.3" stroke="#ff0000" stroke-width="1.7"/>
<path d="M333.75 80.72L337.33 86.99L330.17 86.99Z" fill="#ff0000"/>
<text x="342.8" y="87.61" font-size="9.2" font-weight="bold" fill="#000" stroke="#000" stroke-width="0.166">30 mins</text>
<line x1="325.9" y1="96" x2="341.6" y2="96" stroke="#808000" stroke-width="1.7"/>
<path d="M333.75 99.58L337.33 93.31L330.17 93.31Z" fill="#808000"/>
<text x="342.8" y="99.31" font-size="9.2" font-weight="bold" fill="#000" stroke="#000" stroke-width="0.166">60 mins</text>
<line x1="325.9" y1="107.5" x2="341.6" y2="107.5" stroke="#000080" stroke-width="1.7"/>
<path d="M333.75 103.92L337.33 107.5L333.75 111.08L330.17 107.5Z" fill="#000080"/>
<text x="342.8" y="110.81" font-size="9.2" font-weight="bold" fill="#000" stroke="#000" stroke-width="0.166">90 mins</text>
<line x1="325.9" y1="119.1" x2="341.6" y2="119.1" stroke="#800000" stroke-width="1.7"/>
<path d="M330.17 119.1L336.44 115.52L336.44 122.68Z" fill="#800000"/>
<text x="342.8" y="122.41" font-size="9.2" font-weight="bold" fill="#000" stroke="#000" stroke-width="0.166">120 mins</text>
<text x="326.6" y="35.9" font-size="10.4" font-weight="bold" textLength="22" lengthAdjust="spacingAndGlyphs" fill="#7c10f4" stroke="#7c10f4" stroke-width="0.187">CeO</text><text x="348.7" y="39.5" font-size="6.5" font-weight="bold" fill="#7c10f4" stroke="#7c10f4" stroke-width="0.117">2</text>
<clipPath id="clipc"><rect x="51.3" y="223.4" width="223.1" height="179.2"/></clipPath>
<g clip-path="url(#clipc)">
<polyline points="42.38,386.84 44.16,387.46 45.95,388.09 47.73,388.72 49.52,389.33 51.3,389.93 53.08,390.54 54.87,391.09 56.65,391.52 58.44,391.87 60.22,392.18 62.01,392.48 63.79,392.76 65.58,393 67.36,393.18 69.15,393.34 70.93,393.45 72.72,393.49 74.5,393.52 76.29,393.54 78.07,393.54 79.86,393.46 81.64,393.28 83.43,393.07 85.21,392.78 87,392.43 88.78,392.06 90.57,391.66 92.35,391.21 94.14,390.75 95.92,390.27 97.7,389.76 99.49,389.23 101.27,388.69 103.06,388.13 104.84,387.55 106.63,386.97 108.41,386.37 110.2,385.72 111.98,384.99 113.77,384.21 115.55,383.43 117.34,382.72 119.12,382.01 120.91,381.26 122.69,380.45 124.48,379.59 126.26,378.62 128.05,377.51 129.83,376.25 131.62,374.95 133.4,373.65 135.19,372.3 136.97,370.79 138.76,368.95 140.54,366.79 142.32,364.58 144.11,362.44 145.89,360.29 147.68,358.1 149.46,355.87 151.25,353.6 153.03,351.32 154.82,349.03 156.6,346.76 158.39,344.45 160.17,342.03 161.96,339.53 163.74,336.91 165.53,334.11 167.31,331.14 169.1,328 170.88,324.72 172.67,321.39 174.45,318 176.24,314.4 178.02,310.45 179.81,306.21 181.59,301.67 183.38,296.72 185.16,291.87 186.94,287.35 188.73,283.01 190.51,278.76 192.3,274.62 194.08,271.11 195.87,268.08 197.65,266.21 199.44,264.94 201.22,265 203.01,266.49 204.79,269.64 206.58,274.01 208.36,279.25 210.15,284.47 211.93,289.99 213.72,295.77 215.5,302.11 217.29,309.61 219.07,317.45 220.86,325.04 222.64,331.86 224.43,337.55 226.21,342.97 228,348.7 229.78,354.21 231.56,359.27 233.35,364.01 235.13,368.58 236.92,372.65 238.7,375.97 240.49,378.85 242.27,381.35 244.06,383.6 245.84,385.48 247.63,387 249.41,388.31 251.2,389.39 252.98,390.27 254.77,391.04 256.55,391.7 258.34,392.25 260.12,392.69 261.91,393.08 263.69,393.43 265.48,393.72 267.26,393.97 269.05,394.18 270.83,394.36 272.62,394.5 274.4,394.59 276.18,394.66 277.97,394.73 279.75,394.78 281.54,394.82 283.32,394.83" fill="none" stroke="#000000" stroke-width="1"/>
<rect x="44.45" y="386.01" width="4.78" height="4.78" fill="#000000"/>
<rect x="48.02" y="387.24" width="4.78" height="4.78" fill="#000000"/>
<rect x="51.59" y="388.43" width="4.78" height="4.78" fill="#000000"/>
<rect x="55.15" y="389.31" width="4.78" height="4.78" fill="#000000"/>
<rect x="58.72" y="389.94" width="4.78" height="4.78" fill="#000000"/>
<rect x="62.29" y="390.5" width="4.78" height="4.78" fill="#000000"/>
<rect x="65.86" y="390.87" width="4.78" height="4.78" fill="#000000"/>
<rect x="69.43" y="391.08" width="4.78" height="4.78" fill="#000000"/>
<rect x="73" y="391.14" width="4.78" height="4.78" fill="#000000"/>
<rect x="76.57" y="391.12" width="4.78" height="4.78" fill="#000000"/>
<rect x="80.14" y="390.79" width="4.78" height="4.78" fill="#000000"/>
<rect x="83.71" y="390.21" width="4.78" height="4.78" fill="#000000"/>
<rect x="87.28" y="389.47" width="4.78" height="4.78" fill="#000000"/>
<rect x="90.85" y="388.59" width="4.78" height="4.78" fill="#000000"/>
<rect x="94.42" y="387.62" width="4.78" height="4.78" fill="#000000"/>
<rect x="97.99" y="386.57" width="4.78" height="4.78" fill="#000000"/>
<rect x="101.56" y="385.45" width="4.78" height="4.78" fill="#000000"/>
<rect x="105.13" y="384.28" width="4.78" height="4.78" fill="#000000"/>
<rect x="108.7" y="382.98" width="4.78" height="4.78" fill="#000000"/>
<rect x="112.27" y="381.42" width="4.78" height="4.78" fill="#000000"/>
<rect x="115.84" y="379.97" width="4.78" height="4.78" fill="#000000"/>
<rect x="119.41" y="378.47" width="4.78" height="4.78" fill="#000000"/>
<rect x="122.98" y="376.73" width="4.78" height="4.78" fill="#000000"/>
<rect x="126.55" y="374.5" width="4.78" height="4.78" fill="#000000"/>
<rect x="130.12" y="371.91" width="4.78" height="4.78" fill="#000000"/>
<rect x="133.69" y="369.18" width="4.78" height="4.78" fill="#000000"/>
<rect x="137.26" y="365.5" width="4.78" height="4.78" fill="#000000"/>
<rect x="140.83" y="361.12" width="4.78" height="4.78" fill="#000000"/>
<rect x="144.39" y="356.8" width="4.78" height="4.78" fill="#000000"/>
<rect x="147.96" y="352.35" width="4.78" height="4.78" fill="#000000"/>
<rect x="151.53" y="347.78" width="4.78" height="4.78" fill="#000000"/>
<rect x="155.1" y="343.22" width="4.78" height="4.78" fill="#000000"/>
<rect x="158.67" y="338.4" width="4.78" height="4.78" fill="#000000"/>
<rect x="162.24" y="333.14" width="4.78" height="4.78" fill="#000000"/>
<rect x="165.81" y="327.2" width="4.78" height="4.78" fill="#000000"/>
<rect x="169.38" y="320.66" width="4.78" height="4.78" fill="#000000"/>
<rect x="172.95" y="313.85" width="4.78" height="4.78" fill="#000000"/>
<rect x="176.52" y="305.97" width="4.78" height="4.78" fill="#000000"/>
<rect x="180.09" y="296.83" width="4.78" height="4.78" fill="#000000"/>
<rect x="183.66" y="287.19" width="4.78" height="4.78" fill="#000000"/>
<rect x="187.23" y="278.5" width="4.78" height="4.78" fill="#000000"/>
<rect x="190.8" y="270.41" width="4.78" height="4.78" fill="#000000"/>
<rect x="194.37" y="264.64" width="4.78" height="4.78" fill="#000000"/>
<rect x="197.94" y="262.35" width="4.78" height="4.78" fill="#000000"/>
<rect x="201.51" y="265.38" width="4.78" height="4.78" fill="#000000"/>
<rect x="205.08" y="274.21" width="4.78" height="4.78" fill="#000000"/>
<rect x="208.65" y="284.79" width="4.78" height="4.78" fill="#000000"/>
<rect x="212.22" y="296.45" width="4.78" height="4.78" fill="#000000"/>
<rect x="215.79" y="311.21" width="4.78" height="4.78" fill="#000000"/>
<rect x="219.36" y="326.23" width="4.78" height="4.78" fill="#000000"/>
<rect x="222.93" y="337.84" width="4.78" height="4.78" fill="#000000"/>
<rect x="226.5" y="349.13" width="4.78" height="4.78" fill="#000000"/>
<rect x="230.07" y="359.29" width="4.78" height="4.78" fill="#000000"/>
<rect x="233.63" y="368.33" width="4.78" height="4.78" fill="#000000"/>
<rect x="237.2" y="375.07" width="4.78" height="4.78" fill="#000000"/>
<rect x="240.77" y="380.12" width="4.78" height="4.78" fill="#000000"/>
<rect x="244.34" y="383.88" width="4.78" height="4.78" fill="#000000"/>
<rect x="247.91" y="386.49" width="4.78" height="4.78" fill="#000000"/>
<rect x="251.48" y="388.27" width="4.78" height="4.78" fill="#000000"/>
<rect x="255.05" y="389.6" width="4.78" height="4.78" fill="#000000"/>
<rect x="258.62" y="390.5" width="4.78" height="4.78" fill="#000000"/>
<rect x="262.19" y="391.19" width="4.78" height="4.78" fill="#000000"/>
<rect x="265.76" y="391.69" width="4.78" height="4.78" fill="#000000"/>
<rect x="269.33" y="392.05" width="4.78" height="4.78" fill="#000000"/>
<rect x="272.9" y="392.24" width="4.78" height="4.78" fill="#000000"/>
<polyline points="42.38,386.8 44.16,387.51 45.95,388.2 47.73,388.86 49.52,389.51 51.3,390.12 53.08,390.72 54.87,391.28 56.65,391.71 58.44,392.07 60.22,392.38 62.01,392.67 63.79,392.96 65.58,393.2 67.36,393.38 69.15,393.53 70.93,393.65 72.72,393.71 74.5,393.75 76.29,393.78 78.07,393.79 79.86,393.73 81.64,393.58 83.43,393.41 85.21,393.16 87,392.87 88.78,392.56 90.57,392.2 92.35,391.82 94.14,391.43 95.92,391.01 97.7,390.57 99.49,390.12 101.27,389.64 103.06,389.16 104.84,388.66 106.63,388.16 108.41,387.64 110.2,387.08 111.98,386.44 113.77,385.76 115.55,385.09 117.34,384.46 119.12,383.85 120.91,383.2 122.69,382.5 124.48,381.74 126.26,380.91 128.05,379.93 129.83,378.84 131.62,377.7 133.4,376.57 135.19,375.4 136.97,374.08 138.76,372.48 140.54,370.59 142.32,368.67 144.11,366.8 145.89,364.92 147.68,363.01 149.46,361.06 151.25,359.09 153.03,357.09 154.82,355.1 156.6,353.12 158.39,351.1 160.17,348.99 161.96,346.81 163.74,344.52 165.53,342.07 167.31,339.48 169.1,336.74 170.88,333.88 172.67,330.97 174.45,328.01 176.24,324.86 178.02,321.42 179.81,317.71 181.59,313.75 183.38,309.43 185.16,305.18 186.94,301.24 188.73,297.45 190.51,293.74 192.3,290.12 194.08,287.06 195.87,284.42 197.65,282.78 199.44,281.67 201.22,281.73 203.01,283.04 204.79,285.79 206.58,289.62 208.36,294.21 210.15,298.77 211.93,303.6 213.72,308.66 215.5,314.2 217.29,320.77 219.07,327.63 220.86,334.27 222.64,340.23 224.43,345.21 226.21,349.96 228,354.97 229.78,359.79 231.56,364.22 233.35,368.37 235.13,372.37 236.92,375.93 238.7,378.84 240.49,381.36 242.27,383.55 244.06,385.51 245.84,387.17 247.63,388.5 249.41,389.65 251.2,390.6 252.98,391.37 254.77,392.05 256.55,392.63 258.34,393.11 260.12,393.5 261.91,393.85 263.69,394.15 265.48,394.42 267.26,394.64 269.05,394.82 270.83,394.99 272.62,395.11 274.4,395.19 276.18,395.26 277.97,395.32 279.75,395.37 281.54,395.41 283.32,395.43" fill="none" stroke="#0000ff" stroke-width="1"/>
<circle cx="46.84" cy="388.54" r="2.65" fill="#0000ff"/>
<circle cx="50.41" cy="389.82" r="2.65" fill="#0000ff"/>
<circle cx="53.98" cy="391.01" r="2.65" fill="#0000ff"/>
<circle cx="57.55" cy="391.89" r="2.65" fill="#0000ff"/>
<circle cx="61.12" cy="392.53" r="2.65" fill="#0000ff"/>
<circle cx="64.69" cy="393.08" r="2.65" fill="#0000ff"/>
<circle cx="68.26" cy="393.46" r="2.65" fill="#0000ff"/>
<circle cx="71.83" cy="393.68" r="2.65" fill="#0000ff"/>
<circle cx="75.39" cy="393.76" r="2.65" fill="#0000ff"/>
<circle cx="78.96" cy="393.77" r="2.65" fill="#0000ff"/>
<circle cx="82.53" cy="393.5" r="2.65" fill="#0000ff"/>
<circle cx="86.1" cy="393.02" r="2.65" fill="#0000ff"/>
<circle cx="89.67" cy="392.38" r="2.65" fill="#0000ff"/>
<circle cx="93.24" cy="391.63" r="2.65" fill="#0000ff"/>
<circle cx="96.81" cy="390.79" r="2.65" fill="#0000ff"/>
<circle cx="100.38" cy="389.88" r="2.65" fill="#0000ff"/>
<circle cx="103.95" cy="388.91" r="2.65" fill="#0000ff"/>
<circle cx="107.52" cy="387.9" r="2.65" fill="#0000ff"/>
<circle cx="111.09" cy="386.77" r="2.65" fill="#0000ff"/>
<circle cx="114.66" cy="385.42" r="2.65" fill="#0000ff"/>
<circle cx="118.23" cy="384.16" r="2.65" fill="#0000ff"/>
<circle cx="121.8" cy="382.85" r="2.65" fill="#0000ff"/>
<circle cx="125.37" cy="381.34" r="2.65" fill="#0000ff"/>
<circle cx="128.94" cy="379.4" r="2.65" fill="#0000ff"/>
<circle cx="132.51" cy="377.14" r="2.65" fill="#0000ff"/>
<circle cx="136.08" cy="374.77" r="2.65" fill="#0000ff"/>
<circle cx="139.65" cy="371.56" r="2.65" fill="#0000ff"/>
<circle cx="143.22" cy="367.73" r="2.65" fill="#0000ff"/>
<circle cx="146.79" cy="363.97" r="2.65" fill="#0000ff"/>
<circle cx="150.36" cy="360.08" r="2.65" fill="#0000ff"/>
<circle cx="153.93" cy="356.09" r="2.65" fill="#0000ff"/>
<circle cx="157.5" cy="352.11" r="2.65" fill="#0000ff"/>
<circle cx="161.07" cy="347.91" r="2.65" fill="#0000ff"/>
<circle cx="164.63" cy="343.31" r="2.65" fill="#0000ff"/>
<circle cx="168.2" cy="338.13" r="2.65" fill="#0000ff"/>
<circle cx="171.77" cy="332.42" r="2.65" fill="#0000ff"/>
<circle cx="175.34" cy="326.47" r="2.65" fill="#0000ff"/>
<circle cx="178.91" cy="319.6" r="2.65" fill="#0000ff"/>
<circle cx="182.48" cy="311.61" r="2.65" fill="#0000ff"/>
<circle cx="186.05" cy="303.19" r="2.65" fill="#0000ff"/>
<circle cx="189.62" cy="295.6" r="2.65" fill="#0000ff"/>
<circle cx="193.19" cy="288.54" r="2.65" fill="#0000ff"/>
<circle cx="196.76" cy="283.5" r="2.65" fill="#0000ff"/>
<circle cx="200.33" cy="281.5" r="2.65" fill="#0000ff"/>
<circle cx="203.9" cy="284.16" r="2.65" fill="#0000ff"/>
<circle cx="207.47" cy="291.89" r="2.65" fill="#0000ff"/>
<circle cx="211.04" cy="301.15" r="2.65" fill="#0000ff"/>
<circle cx="214.61" cy="311.35" r="2.65" fill="#0000ff"/>
<circle cx="218.18" cy="324.26" r="2.65" fill="#0000ff"/>
<circle cx="221.75" cy="337.4" r="2.65" fill="#0000ff"/>
<circle cx="225.32" cy="347.56" r="2.65" fill="#0000ff"/>
<circle cx="228.89" cy="357.44" r="2.65" fill="#0000ff"/>
<circle cx="232.46" cy="366.33" r="2.65" fill="#0000ff"/>
<circle cx="236.03" cy="374.24" r="2.65" fill="#0000ff"/>
<circle cx="239.6" cy="380.14" r="2.65" fill="#0000ff"/>
<circle cx="243.17" cy="384.56" r="2.65" fill="#0000ff"/>
<circle cx="246.74" cy="387.86" r="2.65" fill="#0000ff"/>
<circle cx="250.31" cy="390.15" r="2.65" fill="#0000ff"/>
<circle cx="253.87" cy="391.72" r="2.65" fill="#0000ff"/>
<circle cx="257.44" cy="392.89" r="2.65" fill="#0000ff"/>
<circle cx="261.01" cy="393.68" r="2.65" fill="#0000ff"/>
<circle cx="264.58" cy="394.29" r="2.65" fill="#0000ff"/>
<circle cx="268.15" cy="394.73" r="2.65" fill="#0000ff"/>
<circle cx="271.72" cy="395.06" r="2.65" fill="#0000ff"/>
<circle cx="275.29" cy="395.23" r="2.65" fill="#0000ff"/>
<polyline points="42.38,370.37 44.16,373.57 45.95,376.37 47.73,378.82 49.52,380.97 51.3,382.85 53.08,384.52 54.87,385.98 56.65,387.2 58.44,388.24 60.22,389.14 62.01,389.92 63.79,390.62 65.58,391.21 67.36,391.71 69.15,392.13 70.93,392.48 72.72,392.76 74.5,392.99 76.29,393.18 78.07,393.34 79.86,393.43 81.64,393.44 83.43,393.42 85.21,393.34 87,393.21 88.78,393.07 90.57,392.88 92.35,392.67 94.14,392.45 95.92,392.2 97.7,391.94 99.49,391.66 101.27,391.37 103.06,391.06 104.84,390.75 106.63,390.43 108.41,390.09 110.2,389.73 111.98,389.31 113.77,388.86 115.55,388.42 117.34,388.01 119.12,387.61 120.91,387.18 122.69,386.71 124.48,386.22 126.26,385.66 128.05,385.01 129.83,384.28 131.62,383.53 133.4,382.77 135.19,381.99 136.97,381.11 138.76,380.04 140.54,378.77 142.32,377.48 144.11,376.23 145.89,374.97 147.68,373.7 149.46,372.4 151.25,371.07 153.03,369.73 154.82,368.4 156.6,367.07 158.39,365.72 160.17,364.31 161.96,362.85 163.74,361.31 165.53,359.68 167.31,357.94 169.1,356.1 170.88,354.19 172.67,352.23 174.45,350.25 176.24,348.14 178.02,345.83 179.81,343.35 181.59,340.69 183.38,337.79 185.16,334.94 186.94,332.3 188.73,329.76 190.51,327.27 192.3,324.84 194.08,322.79 195.87,321.02 197.65,319.93 199.44,319.19 201.22,319.23 203.01,320.11 204.79,321.96 206.58,324.54 208.36,327.62 210.15,330.69 211.93,333.94 213.72,337.34 215.5,341.07 217.29,345.48 219.07,350.1 220.86,354.56 222.64,358.57 224.43,361.92 226.21,365.11 228,368.48 229.78,371.72 231.56,374.7 233.35,377.49 235.13,380.18 236.92,382.57 238.7,384.53 240.49,386.23 242.27,387.7 244.06,389.03 245.84,390.14 247.63,391.04 249.41,391.82 251.2,392.46 252.98,392.98 254.77,393.44 256.55,393.84 258.34,394.16 260.12,394.43 261.91,394.67 263.69,394.87 265.48,395.06 267.26,395.21 269.05,395.34 270.83,395.45 272.62,395.54 274.4,395.6 276.18,395.65 277.97,395.69 279.75,395.73 281.54,395.76 283.32,395.77" fill="none" stroke="#ff0000" stroke-width="1"/>
<path d="M46.84 374.3L50.17 380.13L43.51 380.13Z" fill="#ff0000"/>
<path d="M50.41 378.61L53.74 384.44L47.08 384.44Z" fill="#ff0000"/>
<path d="M53.98 381.95L57.31 387.78L50.65 387.78Z" fill="#ff0000"/>
<path d="M57.55 384.41L60.87 390.24L54.22 390.24Z" fill="#ff0000"/>
<path d="M61.12 386.21L64.44 392.04L57.79 392.04Z" fill="#ff0000"/>
<path d="M64.69 387.6L68.01 393.42L61.36 393.42Z" fill="#ff0000"/>
<path d="M68.26 388.6L71.58 394.42L64.93 394.42Z" fill="#ff0000"/>
<path d="M71.83 389.3L75.15 395.12L68.5 395.12Z" fill="#ff0000"/>
<path d="M75.39 389.76L78.72 395.58L72.07 395.58Z" fill="#ff0000"/>
<path d="M78.96 390.07L82.29 395.89L75.64 395.89Z" fill="#ff0000"/>
<path d="M82.53 390.11L85.86 395.93L79.21 395.93Z" fill="#ff0000"/>
<path d="M86.1 389.95L89.43 395.77L82.78 395.77Z" fill="#ff0000"/>
<path d="M89.67 389.65L93 395.47L86.35 395.47Z" fill="#ff0000"/>
<path d="M93.24 389.24L96.57 395.06L89.91 395.06Z" fill="#ff0000"/>
<path d="M96.81 388.74L100.14 394.57L93.48 394.57Z" fill="#ff0000"/>
<path d="M100.38 388.19L103.71 394.01L97.05 394.01Z" fill="#ff0000"/>
<path d="M103.95 387.58L107.28 393.4L100.62 393.4Z" fill="#ff0000"/>
<path d="M107.52 386.93L110.85 392.76L104.19 392.76Z" fill="#ff0000"/>
<path d="M111.09 386.2L114.42 392.02L107.76 392.02Z" fill="#ff0000"/>
<path d="M114.66 385.31L117.99 391.14L111.33 391.14Z" fill="#ff0000"/>
<path d="M118.23 384.48L121.56 390.31L114.9 390.31Z" fill="#ff0000"/>
<path d="M121.8 383.62L125.13 389.45L118.47 389.45Z" fill="#ff0000"/>
<path d="M125.37 382.62L128.7 388.44L122.04 388.44Z" fill="#ff0000"/>
<path d="M128.94 381.33L132.27 387.15L125.61 387.15Z" fill="#ff0000"/>
<path d="M132.51 379.82L135.84 385.64L129.18 385.64Z" fill="#ff0000"/>
<path d="M136.08 378.24L139.41 384.06L132.75 384.06Z" fill="#ff0000"/>
<path d="M139.65 376.09L142.98 381.91L136.32 381.91Z" fill="#ff0000"/>
<path d="M143.22 373.53L146.55 379.36L139.89 379.36Z" fill="#ff0000"/>
<path d="M146.79 371.01L150.11 376.83L143.46 376.83Z" fill="#ff0000"/>
<path d="M150.36 368.41L153.68 374.23L147.03 374.23Z" fill="#ff0000"/>
<path d="M153.93 365.74L157.25 371.56L150.6 371.56Z" fill="#ff0000"/>
<path d="M157.5 363.07L160.82 368.9L154.17 368.9Z" fill="#ff0000"/>
<path d="M161.07 360.26L164.39 366.08L157.74 366.08Z" fill="#ff0000"/>
<path d="M164.63 357.18L167.96 363L161.31 363Z" fill="#ff0000"/>
<path d="M168.2 353.71L171.53 359.53L164.88 359.53Z" fill="#ff0000"/>
<path d="M171.77 349.88L175.1 355.71L168.45 355.71Z" fill="#ff0000"/>
<path d="M175.34 345.89L178.67 351.72L172.02 351.72Z" fill="#ff0000"/>
<path d="M178.91 341.28L182.24 347.11L175.59 347.11Z" fill="#ff0000"/>
<path d="M182.48 335.93L185.81 341.75L179.15 341.75Z" fill="#ff0000"/>
<path d="M186.05 330.28L189.38 336.1L182.72 336.1Z" fill="#ff0000"/>
<path d="M189.62 325.19L192.95 331.01L186.29 331.01Z" fill="#ff0000"/>
<path d="M193.19 320.45L196.52 326.28L189.86 326.28Z" fill="#ff0000"/>
<path d="M196.76 317.08L200.09 322.9L193.43 322.9Z" fill="#ff0000"/>
<path d="M200.33 315.74L203.66 321.57L197 321.57Z" fill="#ff0000"/>
<path d="M203.9 317.54L207.23 323.36L200.57 323.36Z" fill="#ff0000"/>
<path d="M207.47 322.74L210.8 328.56L204.14 328.56Z" fill="#ff0000"/>
<path d="M211.04 328.96L214.37 334.79L207.71 334.79Z" fill="#ff0000"/>
<path d="M214.61 335.82L217.94 341.65L211.28 341.65Z" fill="#ff0000"/>
<path d="M218.18 344.5L221.51 350.33L214.85 350.33Z" fill="#ff0000"/>
<path d="M221.75 353.34L225.08 359.16L218.42 359.16Z" fill="#ff0000"/>
<path d="M225.32 360.17L228.65 365.99L221.99 365.99Z" fill="#ff0000"/>
<path d="M228.89 366.81L232.22 372.63L225.56 372.63Z" fill="#ff0000"/>
<path d="M232.46 372.79L235.79 378.61L229.13 378.61Z" fill="#ff0000"/>
<path d="M236.03 378.11L239.35 383.93L232.7 383.93Z" fill="#ff0000"/>
<path d="M239.6 382.08L242.92 387.91L236.27 387.91Z" fill="#ff0000"/>
<path d="M243.17 385.06L246.49 390.88L239.84 390.88Z" fill="#ff0000"/>
<path d="M246.74 387.28L250.06 393.1L243.41 393.1Z" fill="#ff0000"/>
<path d="M250.31 388.83L253.63 394.65L246.98 394.65Z" fill="#ff0000"/>
<path d="M253.87 389.89L257.2 395.71L250.55 395.71Z" fill="#ff0000"/>
<path d="M257.44 390.68L260.77 396.51L254.12 396.51Z" fill="#ff0000"/>
<path d="M261.01 391.22L264.34 397.05L257.69 397.05Z" fill="#ff0000"/>
<path d="M264.58 391.64L267.91 397.46L261.26 397.46Z" fill="#ff0000"/>
<path d="M268.15 391.95L271.48 397.77L264.83 397.77Z" fill="#ff0000"/>
<path d="M271.72 392.17L275.05 397.99L268.39 397.99Z" fill="#ff0000"/>
<path d="M275.29 392.29L278.62 398.12L271.96 398.12Z" fill="#ff0000"/>
<polyline points="42.38,381.94 44.16,383.69 45.95,385.22 47.73,386.56 49.52,387.74 51.3,388.78 53.08,389.7 54.87,390.51 56.65,391.18 58.44,391.76 60.22,392.25 62.01,392.69 63.79,393.07 65.58,393.4 67.36,393.68 69.15,393.91 70.93,394.11 72.72,394.26 74.5,394.39 76.29,394.5 78.07,394.58 79.86,394.63 81.64,394.64 83.43,394.62 85.21,394.57 87,394.49 88.78,394.41 90.57,394.3 92.35,394.18 94.14,394.04 95.92,393.9 97.7,393.74 99.49,393.58 101.27,393.41 103.06,393.23 104.84,393.04 106.63,392.86 108.41,392.66 110.2,392.45 111.98,392.21 113.77,391.94 115.55,391.68 117.34,391.44 119.12,391.21 120.91,390.96 122.69,390.68 124.48,390.39 126.26,390.06 128.05,389.68 129.83,389.26 131.62,388.81 133.4,388.37 135.19,387.91 136.97,387.39 138.76,386.76 140.54,386.02 142.32,385.26 144.11,384.52 145.89,383.78 147.68,383.03 149.46,382.27 151.25,381.49 153.03,380.7 154.82,379.91 156.6,379.13 158.39,378.34 160.17,377.51 161.96,376.65 163.74,375.74 165.53,374.78 167.31,373.76 169.1,372.68 170.88,371.55 172.67,370.4 174.45,369.23 176.24,367.99 178.02,366.62 179.81,365.16 181.59,363.6 183.38,361.89 185.16,360.21 186.94,358.65 188.73,357.15 190.51,355.69 192.3,354.26 194.08,353.05 195.87,352 197.65,351.36 199.44,350.93 201.22,350.95 203.01,351.48 204.79,352.57 206.58,354.09 208.36,355.92 210.15,357.73 211.93,359.65 213.72,361.66 215.5,363.86 217.29,366.46 219.07,369.19 220.86,371.83 222.64,374.19 224.43,376.17 226.21,378.06 228,380.05 229.78,381.96 231.56,383.72 233.35,385.37 235.13,386.96 236.92,388.38 238.7,389.53 240.49,390.54 242.27,391.41 244.06,392.19 245.84,392.85 247.63,393.39 249.41,393.85 251.2,394.23 252.98,394.54 254.77,394.81 256.55,395.05 258.34,395.24 260.12,395.4 261.91,395.54 263.69,395.67 265.48,395.78 267.26,395.87 269.05,395.95 270.83,396.02 272.62,396.07 274.4,396.11 276.18,396.14 277.97,396.17 279.75,396.19 281.54,396.21 283.32,396.22" fill="none" stroke="#808000" stroke-width="1"/>
<path d="M46.84 389.24L50.17 383.42L43.51 383.42Z" fill="#808000"/>
<path d="M50.41 391.61L53.74 385.78L47.08 385.78Z" fill="#808000"/>
<path d="M53.98 393.45L57.31 387.63L50.65 387.63Z" fill="#808000"/>
<path d="M57.55 394.81L60.87 388.98L54.22 388.98Z" fill="#808000"/>
<path d="M61.12 395.8L64.44 389.98L57.79 389.98Z" fill="#808000"/>
<path d="M64.69 396.57L68.01 390.75L61.36 390.75Z" fill="#808000"/>
<path d="M68.26 397.13L71.58 391.3L64.93 391.3Z" fill="#808000"/>
<path d="M71.83 397.52L75.15 391.69L68.5 391.69Z" fill="#808000"/>
<path d="M75.39 397.77L78.72 391.95L72.07 391.95Z" fill="#808000"/>
<path d="M78.96 397.94L82.29 392.12L75.64 392.12Z" fill="#808000"/>
<path d="M82.53 397.96L85.86 392.14L79.21 392.14Z" fill="#808000"/>
<path d="M86.1 397.86L89.43 392.04L82.78 392.04Z" fill="#808000"/>
<path d="M89.67 397.68L93 391.86L86.35 391.86Z" fill="#808000"/>
<path d="M93.24 397.44L96.57 391.62L89.91 391.62Z" fill="#808000"/>
<path d="M96.81 397.15L100.14 391.33L93.48 391.33Z" fill="#808000"/>
<path d="M100.38 396.82L103.71 391L97.05 391Z" fill="#808000"/>
<path d="M103.95 396.47L107.28 390.64L100.62 390.64Z" fill="#808000"/>
<path d="M107.52 396.09L110.85 390.26L104.19 390.26Z" fill="#808000"/>
<path d="M111.09 395.66L114.42 389.83L107.76 389.83Z" fill="#808000"/>
<path d="M114.66 395.14L117.99 389.31L111.33 389.31Z" fill="#808000"/>
<path d="M118.23 394.65L121.56 388.83L114.9 388.83Z" fill="#808000"/>
<path d="M121.8 394.15L125.13 388.33L118.47 388.33Z" fill="#808000"/>
<path d="M125.37 393.56L128.7 387.74L122.04 387.74Z" fill="#808000"/>
<path d="M128.94 392.8L132.27 386.98L125.61 386.98Z" fill="#808000"/>
<path d="M132.51 391.92L135.84 386.09L129.18 386.09Z" fill="#808000"/>
<path d="M136.08 390.99L139.41 385.16L132.75 385.16Z" fill="#808000"/>
<path d="M139.65 389.73L142.98 383.9L136.32 383.9Z" fill="#808000"/>
<path d="M143.22 388.22L146.55 382.4L139.89 382.4Z" fill="#808000"/>
<path d="M146.79 386.74L150.11 380.91L143.46 380.91Z" fill="#808000"/>
<path d="M150.36 385.2L153.68 379.38L147.03 379.38Z" fill="#808000"/>
<path d="M153.93 383.63L157.25 377.81L150.6 377.81Z" fill="#808000"/>
<path d="M157.5 382.07L160.82 376.24L154.17 376.24Z" fill="#808000"/>
<path d="M161.07 380.41L164.39 374.59L157.74 374.59Z" fill="#808000"/>
<path d="M164.63 378.6L167.96 372.77L161.31 372.77Z" fill="#808000"/>
<path d="M168.2 376.55L171.53 370.73L164.88 370.73Z" fill="#808000"/>
<path d="M171.77 374.3L175.1 368.48L168.45 368.48Z" fill="#808000"/>
<path d="M175.34 371.95L178.67 366.12L172.02 366.12Z" fill="#808000"/>
<path d="M178.91 369.23L182.24 363.41L175.59 363.41Z" fill="#808000"/>
<path d="M182.48 366.08L185.81 360.25L179.15 360.25Z" fill="#808000"/>
<path d="M186.05 362.75L189.38 356.93L182.72 356.93Z" fill="#808000"/>
<path d="M189.62 359.75L192.95 353.92L186.29 353.92Z" fill="#808000"/>
<path d="M193.19 356.96L196.52 351.14L189.86 351.14Z" fill="#808000"/>
<path d="M196.76 354.97L200.09 349.15L193.43 349.15Z" fill="#808000"/>
<path d="M200.33 354.19L203.66 348.36L197 348.36Z" fill="#808000"/>
<path d="M203.9 355.25L207.23 349.43L200.57 349.43Z" fill="#808000"/>
<path d="M207.47 358.32L210.8 352.5L204.14 352.5Z" fill="#808000"/>
<path d="M211.04 362L214.37 356.18L207.71 356.18Z" fill="#808000"/>
<path d="M214.61 366.05L217.94 360.23L211.28 360.23Z" fill="#808000"/>
<path d="M218.18 371.18L221.51 365.36L214.85 365.36Z" fill="#808000"/>
<path d="M221.75 376.4L225.08 370.57L218.42 370.57Z" fill="#808000"/>
<path d="M225.32 380.43L228.65 374.61L221.99 374.61Z" fill="#808000"/>
<path d="M228.89 384.36L232.22 378.53L225.56 378.53Z" fill="#808000"/>
<path d="M232.46 387.89L235.79 382.06L229.13 382.06Z" fill="#808000"/>
<path d="M236.03 391.03L239.35 385.21L232.7 385.21Z" fill="#808000"/>
<path d="M239.6 393.38L242.92 387.56L236.27 387.56Z" fill="#808000"/>
<path d="M243.17 395.14L246.49 389.32L239.84 389.32Z" fill="#808000"/>
<path d="M246.74 396.46L250.06 390.63L243.41 390.63Z" fill="#808000"/>
<path d="M250.31 397.38L253.63 391.55L246.98 391.55Z" fill="#808000"/>
<path d="M253.87 398.01L257.2 392.18L250.55 392.18Z" fill="#808000"/>
<path d="M257.44 398.48L260.77 392.65L254.12 392.65Z" fill="#808000"/>
<path d="M261.01 398.8L264.34 392.98L257.69 392.98Z" fill="#808000"/>
<path d="M264.58 399.05L267.91 393.23L261.26 393.23Z" fill="#808000"/>
<path d="M268.15 399.24L271.48 393.41L264.83 393.41Z" fill="#808000"/>
<path d="M271.72 399.37L275.05 393.55L268.39 393.55Z" fill="#808000"/>
<path d="M275.29 399.45L278.62 393.63L271.96 393.63Z" fill="#808000"/>
<polyline points="42.38,385.07 44.16,386.56 45.95,387.85 47.73,388.97 49.52,389.95 51.3,390.81 53.08,391.56 54.87,392.21 56.65,392.76 58.44,393.23 60.22,393.63 62.01,393.99 63.79,394.3 65.58,394.56 67.36,394.78 69.15,394.98 70.93,395.14 72.72,395.26 74.5,395.37 76.29,395.47 78.07,395.54 79.86,395.59 81.64,395.62 83.43,395.63 85.21,395.61 87,395.58 88.78,395.55 90.57,395.5 92.35,395.44 94.14,395.37 95.92,395.3 97.7,395.21 99.49,395.13 101.27,395.04 103.06,394.94 104.84,394.84 106.63,394.74 108.41,394.63 110.2,394.52 111.98,394.39 113.77,394.24 115.55,394.1 117.34,393.97 119.12,393.84 120.91,393.7 122.69,393.55 124.48,393.39 126.26,393.21 128.05,392.99 129.83,392.76 131.62,392.51 133.4,392.27 135.19,392.01 136.97,391.72 138.76,391.37 140.54,390.96 142.32,390.54 144.11,390.13 145.89,389.72 147.68,389.3 149.46,388.88 151.25,388.45 153.03,388.01 154.82,387.57 156.6,387.14 158.39,386.7 160.17,386.24 161.96,385.76 163.74,385.26 165.53,384.72 167.31,384.15 169.1,383.55 170.88,382.93 172.67,382.29 174.45,381.64 176.24,380.95 178.02,380.19 179.81,379.38 181.59,378.51 183.38,377.56 185.16,376.63 186.94,375.76 188.73,374.93 190.51,374.12 192.3,373.32 194.08,372.65 195.87,372.07 197.65,371.72 199.44,371.47 201.22,371.49 203.01,371.78 204.79,372.39 206.58,373.23 208.36,374.25 210.15,375.26 211.93,376.32 213.72,377.44 215.5,378.66 217.29,380.11 219.07,381.63 220.86,383.09 222.64,384.41 224.43,385.51 226.21,386.56 228,387.66 229.78,388.73 231.56,389.71 233.35,390.62 235.13,391.51 236.92,392.3 238.7,392.94 240.49,393.5 242.27,393.98 244.06,394.42 245.84,394.79 247.63,395.08 249.41,395.34 251.2,395.55 252.98,395.72 254.77,395.87 256.55,396.01 258.34,396.12 260.12,396.2 261.91,396.28 263.69,396.35 265.48,396.41 267.26,396.47 269.05,396.51 270.83,396.55 272.62,396.58 274.4,396.6 276.18,396.62 277.97,396.63 279.75,396.65 281.54,396.66 283.32,396.67" fill="none" stroke="#000080" stroke-width="1"/>
<path d="M46.84 385.1L50.17 388.43L46.84 391.76L43.51 388.43Z" fill="#000080"/>
<path d="M50.41 387.07L53.74 390.4L50.41 393.72L47.08 390.4Z" fill="#000080"/>
<path d="M53.98 388.57L57.31 391.9L53.98 395.23L50.65 391.9Z" fill="#000080"/>
<path d="M57.55 389.68L60.87 393L57.55 396.33L54.22 393Z" fill="#000080"/>
<path d="M61.12 390.49L64.44 393.82L61.12 397.14L57.79 393.82Z" fill="#000080"/>
<path d="M64.69 391.11L68.01 394.43L64.69 397.76L61.36 394.43Z" fill="#000080"/>
<path d="M68.26 391.56L71.58 394.88L68.26 398.21L64.93 394.88Z" fill="#000080"/>
<path d="M71.83 391.87L75.15 395.2L71.83 398.53L68.5 395.2Z" fill="#000080"/>
<path d="M75.39 392.09L78.72 395.42L75.39 398.75L72.07 395.42Z" fill="#000080"/>
<path d="M78.96 392.24L82.29 395.57L78.96 398.9L75.64 395.57Z" fill="#000080"/>
<path d="M82.53 392.29L85.86 395.62L82.53 398.95L79.21 395.62Z" fill="#000080"/>
<path d="M86.1 392.27L89.43 395.6L86.1 398.93L82.78 395.6Z" fill="#000080"/>
<path d="M89.67 392.19L93 395.52L89.67 398.85L86.35 395.52Z" fill="#000080"/>
<path d="M93.24 392.08L96.57 395.4L93.24 398.73L89.91 395.4Z" fill="#000080"/>
<path d="M96.81 391.93L100.14 395.26L96.81 398.58L93.48 395.26Z" fill="#000080"/>
<path d="M100.38 391.76L103.71 395.08L100.38 398.41L97.05 395.08Z" fill="#000080"/>
<path d="M103.95 391.56L107.28 394.89L103.95 398.22L100.62 394.89Z" fill="#000080"/>
<path d="M107.52 391.36L110.85 394.69L107.52 398.02L104.19 394.69Z" fill="#000080"/>
<path d="M111.09 391.13L114.42 394.45L111.09 397.78L107.76 394.45Z" fill="#000080"/>
<path d="M114.66 390.84L117.99 394.17L114.66 397.5L111.33 394.17Z" fill="#000080"/>
<path d="M118.23 390.57L121.56 393.9L118.23 397.23L114.9 393.9Z" fill="#000080"/>
<path d="M121.8 390.3L125.13 393.62L121.8 396.95L118.47 393.62Z" fill="#000080"/>
<path d="M125.37 389.97L128.7 393.3L125.37 396.63L122.04 393.3Z" fill="#000080"/>
<path d="M128.94 389.55L132.27 392.88L128.94 396.21L125.61 392.88Z" fill="#000080"/>
<path d="M132.51 389.06L135.84 392.39L132.51 395.72L129.18 392.39Z" fill="#000080"/>
<path d="M136.08 388.54L139.41 391.87L136.08 395.2L132.75 391.87Z" fill="#000080"/>
<path d="M139.65 387.84L142.98 391.17L139.65 394.5L136.32 391.17Z" fill="#000080"/>
<path d="M143.22 387.01L146.55 390.34L143.22 393.66L139.89 390.34Z" fill="#000080"/>
<path d="M146.79 386.18L150.11 389.51L146.79 392.84L143.46 389.51Z" fill="#000080"/>
<path d="M150.36 385.33L153.68 388.66L150.36 391.99L147.03 388.66Z" fill="#000080"/>
<path d="M153.93 384.46L157.25 387.79L153.93 391.12L150.6 387.79Z" fill="#000080"/>
<path d="M157.5 383.59L160.82 386.92L157.5 390.25L154.17 386.92Z" fill="#000080"/>
<path d="M161.07 382.67L164.39 386L161.07 389.33L157.74 386Z" fill="#000080"/>
<path d="M164.63 381.67L167.96 384.99L164.63 388.32L161.31 384.99Z" fill="#000080"/>
<path d="M168.2 380.53L171.53 383.86L168.2 387.19L164.88 383.86Z" fill="#000080"/>
<path d="M171.77 379.28L175.1 382.61L171.77 385.93L168.45 382.61Z" fill="#000080"/>
<path d="M175.34 377.97L178.67 381.3L175.34 384.63L172.02 381.3Z" fill="#000080"/>
<path d="M178.91 376.46L182.24 379.79L178.91 383.12L175.59 379.79Z" fill="#000080"/>
<path d="M182.48 374.71L185.81 378.04L182.48 381.37L179.15 378.04Z" fill="#000080"/>
<path d="M186.05 372.86L189.38 376.19L186.05 379.52L182.72 376.19Z" fill="#000080"/>
<path d="M189.62 371.2L192.95 374.52L189.62 377.85L186.29 374.52Z" fill="#000080"/>
<path d="M193.19 369.65L196.52 372.98L193.19 376.3L189.86 372.98Z" fill="#000080"/>
<path d="M196.76 368.54L200.09 371.87L196.76 375.2L193.43 371.87Z" fill="#000080"/>
<path d="M200.33 368.11L203.66 371.44L200.33 374.76L197 371.44Z" fill="#000080"/>
<path d="M203.9 368.7L207.23 372.03L203.9 375.36L200.57 372.03Z" fill="#000080"/>
<path d="M207.47 370.41L210.8 373.74L207.47 377.07L204.14 373.74Z" fill="#000080"/>
<path d="M211.04 372.45L214.37 375.78L211.04 379.11L207.71 375.78Z" fill="#000080"/>
<path d="M214.61 374.71L217.94 378.04L214.61 381.36L211.28 378.04Z" fill="#000080"/>
<path d="M218.18 377.56L221.51 380.88L218.18 384.21L214.85 380.88Z" fill="#000080"/>
<path d="M221.75 380.46L225.08 383.78L221.75 387.11L218.42 383.78Z" fill="#000080"/>
<path d="M225.32 382.7L228.65 386.03L225.32 389.36L221.99 386.03Z" fill="#000080"/>
<path d="M228.89 384.88L232.22 388.21L228.89 391.54L225.56 388.21Z" fill="#000080"/>
<path d="M232.46 386.85L235.79 390.17L232.46 393.5L229.13 390.17Z" fill="#000080"/>
<path d="M236.03 388.59L239.35 391.92L236.03 395.25L232.7 391.92Z" fill="#000080"/>
<path d="M239.6 389.9L242.92 393.23L239.6 396.56L236.27 393.23Z" fill="#000080"/>
<path d="M243.17 390.88L246.49 394.21L243.17 397.54L239.84 394.21Z" fill="#000080"/>
<path d="M246.74 391.61L250.06 394.94L246.74 398.27L243.41 394.94Z" fill="#000080"/>
<path d="M250.31 392.12L253.63 395.45L250.31 398.78L246.98 395.45Z" fill="#000080"/>
<path d="M253.87 392.47L257.2 395.8L253.87 399.13L250.55 395.8Z" fill="#000080"/>
<path d="M257.44 392.74L260.77 396.06L257.44 399.39L254.12 396.06Z" fill="#000080"/>
<path d="M261.01 392.92L264.34 396.24L261.01 399.57L257.69 396.24Z" fill="#000080"/>
<path d="M264.58 393.06L267.91 396.38L264.58 399.71L261.26 396.38Z" fill="#000080"/>
<path d="M268.15 393.16L271.48 396.49L268.15 399.82L264.83 396.49Z" fill="#000080"/>
<path d="M271.72 393.24L275.05 396.57L271.72 399.89L268.39 396.57Z" fill="#000080"/>
<path d="M275.29 393.28L278.62 396.61L275.29 399.94L271.96 396.61Z" fill="#000080"/>
<polyline points="42.38,394.9 44.16,395.3 45.95,395.64 47.73,395.94 49.52,396.2 51.3,396.42 53.08,396.62 54.87,396.79 56.65,396.93 58.44,397.06 60.22,397.16 62.01,397.25 63.79,397.33 65.58,397.4 67.36,397.45 69.15,397.5 70.93,397.54 72.72,397.57 74.5,397.6 76.29,397.62 78.07,397.64 79.86,397.65 81.64,397.65 83.43,397.65 85.21,397.64 87,397.64 88.78,397.62 90.57,397.61 92.35,397.59 94.14,397.57 95.92,397.55 97.7,397.53 99.49,397.5 101.27,397.48 103.06,397.45 104.84,397.42 106.63,397.39 108.41,397.36 110.2,397.33 111.98,397.3 113.77,397.26 115.55,397.22 117.34,397.18 119.12,397.15 120.91,397.11 122.69,397.07 124.48,397.03 126.26,396.98 128.05,396.92 129.83,396.86 131.62,396.8 133.4,396.73 135.19,396.66 136.97,396.59 138.76,396.5 140.54,396.39 142.32,396.29 144.11,396.18 145.89,396.08 147.68,395.97 149.46,395.86 151.25,395.75 153.03,395.64 154.82,395.53 156.6,395.42 158.39,395.3 160.17,395.19 161.96,395.06 163.74,394.94 165.53,394.8 167.31,394.65 169.1,394.5 170.88,394.34 172.67,394.18 174.45,394.02 176.24,393.84 178.02,393.65 179.81,393.45 181.59,393.23 183.38,392.99 185.16,392.75 186.94,392.53 188.73,392.32 190.51,392.12 192.3,391.92 194.08,391.75 195.87,391.6 197.65,391.51 199.44,391.45 201.22,391.45 203.01,391.52 204.79,391.66 206.58,391.87 208.36,392.12 210.15,392.37 211.93,392.63 213.72,392.9 215.5,393.2 217.29,393.56 219.07,393.93 220.86,394.29 222.64,394.62 224.43,394.89 226.21,395.15 228,395.42 229.78,395.68 231.56,395.92 233.35,396.14 235.13,396.36 236.92,396.55 238.7,396.71 240.49,396.84 242.27,396.96 244.06,397.07 245.84,397.15 247.63,397.22 249.41,397.28 251.2,397.33 252.98,397.37 254.77,397.41 256.55,397.44 258.34,397.46 260.12,397.48 261.91,397.5 263.69,397.51 265.48,397.52 267.26,397.53 269.05,397.54 270.83,397.55 272.62,397.55 274.4,397.55 276.18,397.55 277.97,397.55 279.75,397.56 281.54,397.55 283.32,397.55" fill="none" stroke="#800000" stroke-width="1"/>
<path d="M43.51 395.8L49.33 392.47L49.33 399.12Z" fill="#800000"/>
<path d="M47.08 396.31L52.9 392.99L52.9 399.64Z" fill="#800000"/>
<path d="M50.65 396.71L56.47 393.38L56.47 400.04Z" fill="#800000"/>
<path d="M54.22 397L60.04 393.67L60.04 400.32Z" fill="#800000"/>
<path d="M57.79 397.21L63.61 393.88L63.61 400.53Z" fill="#800000"/>
<path d="M61.36 397.36L67.18 394.04L67.18 400.69Z" fill="#800000"/>
<path d="M64.93 397.48L70.75 394.15L70.75 400.81Z" fill="#800000"/>
<path d="M68.5 397.56L74.32 394.23L74.32 400.88Z" fill="#800000"/>
<path d="M72.07 397.61L77.89 394.28L77.89 400.94Z" fill="#800000"/>
<path d="M75.64 397.64L81.46 394.31L81.46 400.97Z" fill="#800000"/>
<path d="M79.21 397.65L85.03 394.32L85.03 400.98Z" fill="#800000"/>
<path d="M82.78 397.64L88.6 394.31L88.6 400.97Z" fill="#800000"/>
<path d="M86.35 397.62L92.17 394.29L92.17 400.94Z" fill="#800000"/>
<path d="M89.91 397.58L95.74 394.25L95.74 400.91Z" fill="#800000"/>
<path d="M93.48 397.54L99.31 394.21L99.31 400.87Z" fill="#800000"/>
<path d="M97.05 397.49L102.88 394.16L102.88 400.82Z" fill="#800000"/>
<path d="M100.62 397.44L106.45 394.11L106.45 400.76Z" fill="#800000"/>
<path d="M104.19 397.38L110.02 394.05L110.02 400.71Z" fill="#800000"/>
<path d="M107.76 397.31L113.59 393.99L113.59 400.64Z" fill="#800000"/>
<path d="M111.33 397.24L117.16 393.91L117.16 400.57Z" fill="#800000"/>
<path d="M114.9 397.16L120.73 393.84L120.73 400.49Z" fill="#800000"/>
<path d="M118.47 397.09L124.3 393.76L124.3 400.42Z" fill="#800000"/>
<path d="M122.04 397L127.87 393.67L127.87 400.33Z" fill="#800000"/>
<path d="M125.61 396.89L131.43 393.56L131.43 400.22Z" fill="#800000"/>
<path d="M129.18 396.76L135 393.44L135 400.09Z" fill="#800000"/>
<path d="M132.75 396.63L138.57 393.3L138.57 399.96Z" fill="#800000"/>
<path d="M136.32 396.45L142.14 393.12L142.14 399.78Z" fill="#800000"/>
<path d="M139.89 396.23L145.71 392.91L145.71 399.56Z" fill="#800000"/>
<path d="M143.46 396.02L149.28 392.7L149.28 399.35Z" fill="#800000"/>
<path d="M147.03 395.81L152.85 392.48L152.85 399.13Z" fill="#800000"/>
<path d="M150.6 395.58L156.42 392.25L156.42 398.91Z" fill="#800000"/>
<path d="M154.17 395.36L159.99 392.03L159.99 398.69Z" fill="#800000"/>
<path d="M157.74 395.12L163.56 391.8L163.56 398.45Z" fill="#800000"/>
<path d="M161.31 394.87L167.13 391.54L167.13 398.2Z" fill="#800000"/>
<path d="M164.88 394.58L170.7 391.25L170.7 397.91Z" fill="#800000"/>
<path d="M168.45 394.26L174.27 390.93L174.27 397.59Z" fill="#800000"/>
<path d="M172.02 393.93L177.84 390.6L177.84 397.26Z" fill="#800000"/>
<path d="M175.59 393.55L181.41 390.22L181.41 396.88Z" fill="#800000"/>
<path d="M179.15 393.11L184.98 389.78L184.98 396.44Z" fill="#800000"/>
<path d="M182.72 392.64L188.55 389.31L188.55 395.97Z" fill="#800000"/>
<path d="M186.29 392.22L192.12 388.89L192.12 395.55Z" fill="#800000"/>
<path d="M189.86 391.83L195.69 388.5L195.69 395.16Z" fill="#800000"/>
<path d="M193.43 391.55L199.26 388.22L199.26 394.88Z" fill="#800000"/>
<path d="M197 391.44L202.83 388.11L202.83 394.76Z" fill="#800000"/>
<path d="M200.57 391.58L206.4 388.25L206.4 394.9Z" fill="#800000"/>
<path d="M204.14 391.99L209.97 388.67L209.97 395.32Z" fill="#800000"/>
<path d="M207.71 392.5L213.54 389.17L213.54 395.82Z" fill="#800000"/>
<path d="M211.28 393.05L217.11 389.72L217.11 396.38Z" fill="#800000"/>
<path d="M214.85 393.75L220.67 390.42L220.67 397.08Z" fill="#800000"/>
<path d="M218.42 394.46L224.24 391.14L224.24 397.79Z" fill="#800000"/>
<path d="M221.99 395.02L227.81 391.69L227.81 398.34Z" fill="#800000"/>
<path d="M225.56 395.55L231.38 392.22L231.38 398.88Z" fill="#800000"/>
<path d="M229.13 396.03L234.95 392.7L234.95 399.36Z" fill="#800000"/>
<path d="M232.7 396.46L238.52 393.13L238.52 399.79Z" fill="#800000"/>
<path d="M236.27 396.78L242.09 393.45L242.09 400.11Z" fill="#800000"/>
<path d="M239.84 397.02L245.66 393.69L245.66 400.34Z" fill="#800000"/>
<path d="M243.41 397.19L249.23 393.86L249.23 400.52Z" fill="#800000"/>
<path d="M246.98 397.31L252.8 393.98L252.8 400.64Z" fill="#800000"/>
<path d="M250.55 397.39L256.37 394.06L256.37 400.72Z" fill="#800000"/>
<path d="M254.12 397.45L259.94 394.12L259.94 400.78Z" fill="#800000"/>
<path d="M257.69 397.49L263.51 394.16L263.51 400.82Z" fill="#800000"/>
<path d="M261.26 397.52L267.08 394.19L267.08 400.85Z" fill="#800000"/>
<path d="M264.83 397.54L270.65 394.21L270.65 400.86Z" fill="#800000"/>
<path d="M268.39 397.55L274.22 394.22L274.22 400.88Z" fill="#800000"/>
<path d="M271.96 397.55L277.79 394.23L277.79 400.88Z" fill="#800000"/>
</g>
<rect x="51.3" y="223.4" width="223.1" height="179.2" fill="none" stroke="#111" stroke-width="1.6"/>
<path d="M51.3 402.6V406.8 M73.61 402.6V405.2 M95.92 402.6V406.8 M118.23 402.6V405.2 M140.54 402.6V406.8 M162.85 402.6V405.2 M185.16 402.6V406.8 M207.47 402.6V405.2 M229.78 402.6V406.8 M252.09 402.6V405.2 M274.4 402.6V406.8 M51.3 397.1H47.1 M51.3 368.2H48.7 M51.3 339.3H47.1 M51.3 310.4H48.7 M51.3 281.5H47.1 M51.3 252.6H48.7 M51.3 223.7H47.1" stroke="#111" stroke-width="1.35" fill="none"/>
<text x="51.3" y="416" font-size="9" font-weight="bold" text-anchor="middle" fill="#000" stroke="#000" stroke-width="0.162">450</text>
<text x="95.92" y="416" font-size="9" font-weight="bold" text-anchor="middle" fill="#000" stroke="#000" stroke-width="0.162">500</text>
<text x="140.54" y="416" font-size="9" font-weight="bold" text-anchor="middle" fill="#000" stroke="#000" stroke-width="0.162">550</text>
<text x="185.16" y="416" font-size="9" font-weight="bold" text-anchor="middle" fill="#000" stroke="#000" stroke-width="0.162">600</text>
<text x="229.78" y="416" font-size="9" font-weight="bold" text-anchor="middle" fill="#000" stroke="#000" stroke-width="0.162">650</text>
<text x="274.4" y="416" font-size="9" font-weight="bold" text-anchor="middle" fill="#000" stroke="#000" stroke-width="0.162">700</text>
<text x="45" y="399.62" font-size="9" font-weight="bold" text-anchor="end" fill="#000" stroke="#000" stroke-width="0.162">0.0</text>
<text x="45" y="341.82" font-size="9" font-weight="bold" text-anchor="end" fill="#000" stroke="#000" stroke-width="0.162">0.5</text>
<text x="45" y="284.02" font-size="9" font-weight="bold" text-anchor="end" fill="#000" stroke="#000" stroke-width="0.162">1.0</text>
<text x="45" y="226.22" font-size="9" font-weight="bold" text-anchor="end" fill="#000" stroke="#000" stroke-width="0.162">1.5</text>
<text x="120.3" y="428.6" font-size="10" font-weight="bold" textLength="85.2" lengthAdjust="spacingAndGlyphs" fill="#000" stroke="#000" stroke-width="0.180">Wavelength / nm</text>
<g transform="translate(27.6,356.6) rotate(-90)"><text x="0" y="0" font-size="10" font-weight="bold" textLength="91" lengthAdjust="spacingAndGlyphs" fill="#000" stroke="#000" stroke-width="0.180">Absorbance / a.u.</text></g>
<line x1="60.1" y1="276" x2="75.5" y2="276" stroke="#000000" stroke-width="1.7"/>
<rect x="65.22" y="273.42" width="5.15" height="5.15" fill="#000000"/>
<text x="76.8" y="279.31" font-size="9.2" font-weight="bold" fill="#000" stroke="#000" stroke-width="0.166">FG (20 ppm)</text>
<line x1="60.1" y1="287.4" x2="75.5" y2="287.4" stroke="#0000ff" stroke-width="1.7"/>
<circle cx="67.8" cy="287.4" r="2.86" fill="#0000ff"/>
<text x="76.8" y="290.71" font-size="9.2" font-weight="bold" fill="#000" stroke="#000" stroke-width="0.166">Dark (30 mins)</text>
<line x1="60.1" y1="298.9" x2="75.5" y2="298.9" stroke="#ff0000" stroke-width="1.7"/>
<path d="M67.8 295.32L71.38 301.59L64.22 301.59Z" fill="#ff0000"/>
<text x="76.8" y="302.21" font-size="9.2" font-weight="bold" fill="#000" stroke="#000" stroke-width="0.166">30 mins</text>
<line x1="60.1" y1="310.1" x2="75.5" y2="310.1" stroke="#808000" stroke-width="1.7"/>
<path d="M67.8 313.68L71.38 307.41L64.22 307.41Z" fill="#808000"/>
<text x="76.8" y="313.41" font-size="9.2" font-weight="bold" fill="#000" stroke="#000" stroke-width="0.166">60 mins</text>
<line x1="60.1" y1="321.6" x2="75.5" y2="321.6" stroke="#000080" stroke-width="1.7"/>
<path d="M67.8 318.02L71.38 321.6L67.8 325.18L64.22 321.6Z" fill="#000080"/>
<text x="76.8" y="324.91" font-size="9.2" font-weight="bold" fill="#000" stroke="#000" stroke-width="0.166">90 mins</text>
<line x1="60.1" y1="333.2" x2="75.5" y2="333.2" stroke="#800000" stroke-width="1.7"/>
<path d="M64.22 333.2L70.49 329.62L70.49 336.78Z" fill="#800000"/>
<text x="76.8" y="336.51" font-size="9.2" font-weight="bold" fill="#000" stroke="#000" stroke-width="0.166">120 mins</text>
<text x="61" y="249.8" font-size="10.2" font-weight="bold" textLength="21.6" lengthAdjust="spacingAndGlyphs" fill="#7c10f4" stroke="#7c10f4" stroke-width="0.184">CeO</text><text x="82.8" y="254.3" font-size="6.5" font-weight="bold" fill="#7c10f4" stroke="#7c10f4" stroke-width="0.117">2</text><text x="86.2" y="249.8" font-size="10.2" font-weight="bold" textLength="66.8" lengthAdjust="spacingAndGlyphs" fill="#7c10f4" stroke="#7c10f4" stroke-width="0.184">-CuO-Cu(OH)</text><text x="153.1" y="254.3" font-size="6.5" font-weight="bold" fill="#7c10f4" stroke="#7c10f4" stroke-width="0.117">2</text>
<text x="3.5" y="29.6" font-size="15" textLength="18" lengthAdjust="spacingAndGlyphs" fill="#000">(a)</text>
<text x="273.3" y="29.6" font-size="15" textLength="18.8" lengthAdjust="spacingAndGlyphs" fill="#000">(b)</text>
<text x="7.4" y="236.9" font-size="15.5" textLength="17.6" lengthAdjust="spacingAndGlyphs" fill="#000">(c)</text>
<text x="275.8" y="238.2" font-size="15" textLength="18" lengthAdjust="spacingAndGlyphs" fill="#000">(d)</text>
<rect x="280.4" y="405" width="8" height="14" fill="#fff"/>
<defs>
<radialGradient id="gCu" cx="0.5" cy="0.62" r="0.6"><stop offset="0" stop-color="#7c14ff"/><stop offset="0.45" stop-color="#5a14e8"/><stop offset="1" stop-color="#2a12b4"/></radialGradient>
<radialGradient id="gCe" cx="0.5" cy="0.62" r="0.6"><stop offset="0" stop-color="#dc0c3c"/><stop offset="0.45" stop-color="#aa0c46"/><stop offset="1" stop-color="#46105a"/></radialGradient>
<radialGradient id="gCo" cx="0.5" cy="0.6" r="0.62"><stop offset="0" stop-color="#0e0e3c"/><stop offset="0.5" stop-color="#161660"/><stop offset="1" stop-color="#1e1e84"/></radialGradient>
<linearGradient id="lCu" x1="0" x2="1" y1="0" y2="0"><stop offset="0" stop-color="#2a12b8"/><stop offset="0.5" stop-color="#7a12ff"/><stop offset="1" stop-color="#2a12b8"/></linearGradient>
<linearGradient id="lCe" x1="0" x2="1" y1="0" y2="0"><stop offset="0" stop-color="#4a0a50"/><stop offset="0.5" stop-color="#f00a30"/><stop offset="1" stop-color="#4a0a50"/></linearGradient>
<linearGradient id="hCu" x1="0" x2="1" y1="0" y2="0"><stop offset="0" stop-color="#2c14c0"/><stop offset="0.5" stop-color="#7014ff"/><stop offset="1" stop-color="#2c14c0"/></linearGradient>
<linearGradient id="hCe" x1="0" x2="1" y1="0" y2="0"><stop offset="0" stop-color="#5a0a48"/><stop offset="0.5" stop-color="#ff0a1a"/><stop offset="1" stop-color="#5a0a48"/></linearGradient>
<linearGradient id="hCo" x1="0" x2="1" y1="0" y2="0"><stop offset="0" stop-color="#1e1ea8"/><stop offset="0.5" stop-color="#0a0a20"/><stop offset="1" stop-color="#1e1ea8"/></linearGradient>
<linearGradient id="vTop" x1="0" x2="0" y1="0" y2="1"><stop offset="0" stop-color="#100020" stop-opacity="0.45"/><stop offset="0.35" stop-color="#100020" stop-opacity="0"/></linearGradient>
<linearGradient id="lCo" x1="0" x2="1" y1="0" y2="0"><stop offset="0" stop-color="#1c1c90"/><stop offset="0.5" stop-color="#08081c"/><stop offset="1" stop-color="#1c1c90"/></linearGradient>
<pattern id="hatch" width="3.8" height="3.8" patternUnits="userSpaceOnUse" patternTransform="rotate(45)"><rect width="1.5" height="3.8" fill="#000010" fill-opacity="0.5"/></pattern>
<pattern id="hatch2" width="3.8" height="3.8" patternUnits="userSpaceOnUse" patternTransform="rotate(45)"><rect width="1.7" height="3.8" fill="#000008" fill-opacity="0.7"/></pattern>
<radialGradient id="sCu" cx="0.5" cy="0.5" r="0.62"><stop offset="0" stop-color="#8a00ff"/><stop offset="0.55" stop-color="#6a0cee"/><stop offset="1" stop-color="#2c14a8"/></radialGradient>
<radialGradient id="sCe" cx="0.5" cy="0.5" r="0.62"><stop offset="0" stop-color="#ff0010"/><stop offset="0.55" stop-color="#d80010"/><stop offset="1" stop-color="#5a0818"/></radialGradient>
<radialGradient id="sCo" cx="0.5" cy="0.5" r="0.62"><stop offset="0" stop-color="#000000"/><stop offset="0.55" stop-color="#16161e"/><stop offset="1" stop-color="#1e1e40"/></radialGradient>
</defs>
<rect x="345.07" y="366.42" width="14.07" height="38.08" fill="url(#gCu)"/>
<rect x="345.47" y="366.82" width="13.27" height="37.68" fill="none" stroke="#2418c8" stroke-width="0.8"/>
<g transform="translate(354.5,364.82) rotate(-90)"><text x="0" y="0" font-size="7.2" font-weight="bold" fill="#000" stroke="#000" stroke-width="0.130">22.8</text></g>
<rect x="359.14" y="354.73" width="14.07" height="49.77" fill="url(#gCe)"/>
<rect x="359.54" y="355.13" width="13.27" height="49.37" fill="none" stroke="#2418c8" stroke-width="0.8"/>
<g transform="translate(368.57,353.13) rotate(-90)"><text x="0" y="0" font-size="7.2" font-weight="bold" fill="#000" stroke="#000" stroke-width="0.130">29.8</text></g>
<rect x="373.21" y="334.19" width="14.07" height="70.31" fill="url(#gCo)"/>
<rect x="373.61" y="334.59" width="13.27" height="69.91" fill="none" stroke="#2418c8" stroke-width="0.8"/>
<g transform="translate(382.64,332.59) rotate(-90)"><text x="0" y="0" font-size="7.2" font-weight="bold" fill="#000" stroke="#000" stroke-width="0.130">42.1</text></g>
<rect x="393.94" y="341.52" width="14.07" height="62.98" fill="url(#hCu)"/>
<rect x="393.94" y="341.52" width="14.07" height="62.98" fill="url(#vTop)"/>
<rect x="393.94" y="341.52" width="14.07" height="62.98" fill="url(#hatch)"/>
<rect x="394.34" y="341.92" width="13.27" height="62.58" fill="none" stroke="#2418c8" stroke-width="0.8"/>
<g transform="translate(403.37,339.92) rotate(-90)"><text x="0" y="0" font-size="7.2" font-weight="bold" fill="#000" stroke="#000" stroke-width="0.130">37.71</text></g>
<rect x="408.01" y="323.94" width="14.07" height="80.56" fill="url(#hCe)"/>
<rect x="408.01" y="323.94" width="14.07" height="80.56" fill="url(#vTop)"/>
<rect x="408.01" y="323.94" width="14.07" height="80.56" fill="url(#hatch)"/>
<rect x="408.41" y="324.34" width="13.27" height="80.16" fill="none" stroke="#2418c8" stroke-width="0.8"/>
<g transform="translate(417.44,322.34) rotate(-90)"><text x="0" y="0" font-size="7.2" font-weight="bold" fill="#000" stroke="#000" stroke-width="0.130">48.24</text></g>
<rect x="422.08" y="294.65" width="14.07" height="109.85" fill="url(#hCo)"/>
<rect x="422.08" y="294.65" width="14.07" height="109.85" fill="url(#vTop)"/>
<rect x="422.08" y="294.65" width="14.07" height="109.85" fill="url(#hatch)"/>
<rect x="422.48" y="295.05" width="13.27" height="109.45" fill="none" stroke="#2418c8" stroke-width="0.8"/>
<g transform="translate(431.51,293.05) rotate(-90)"><text x="0" y="0" font-size="7.2" font-weight="bold" fill="#000" stroke="#000" stroke-width="0.130">65.78</text></g>
<rect x="442.81" y="318.14" width="14.07" height="86.36" fill="url(#hCu)"/>
<rect x="442.81" y="318.14" width="14.07" height="86.36" fill="url(#vTop)"/>
<rect x="442.81" y="318.14" width="14.07" height="86.36" fill="url(#hatch2)"/>
<rect x="443.21" y="318.54" width="13.27" height="85.96" fill="none" stroke="#2418c8" stroke-width="0.8"/>
<g transform="translate(452.24,316.54) rotate(-90)"><text x="0" y="0" font-size="7.2" font-weight="bold" fill="#000" stroke="#000" stroke-width="0.130">51.71</text></g>
<rect x="456.88" y="300.49" width="14.07" height="104.01" fill="url(#hCe)"/>
<rect x="456.88" y="300.49" width="14.07" height="104.01" fill="url(#vTop)"/>
<rect x="456.88" y="300.49" width="14.07" height="104.01" fill="url(#hatch2)"/>
<rect x="457.28" y="300.89" width="13.27" height="103.61" fill="none" stroke="#2418c8" stroke-width="0.8"/>
<g transform="translate(466.31,298.89) rotate(-90)"><text x="0" y="0" font-size="7.2" font-weight="bold" fill="#000" stroke="#000" stroke-width="0.130">62.28</text></g>
<rect x="470.95" y="269.73" width="14.07" height="134.77" fill="url(#hCo)"/>
<rect x="470.95" y="269.73" width="14.07" height="134.77" fill="url(#vTop)"/>
<rect x="470.95" y="269.73" width="14.07" height="134.77" fill="url(#hatch2)"/>
<rect x="471.35" y="270.13" width="13.27" height="134.37" fill="none" stroke="#2418c8" stroke-width="0.8"/>
<g transform="translate(480.38,268.13) rotate(-90)"><text x="0" y="0" font-size="7.2" font-weight="bold" fill="#000" stroke="#000" stroke-width="0.130">80.7</text></g>
<rect x="491.68" y="293.18" width="14.07" height="111.32" fill="url(#gCu)"/>
<rect x="492.08" y="293.58" width="13.27" height="110.92" fill="none" stroke="#2418c8" stroke-width="0.8"/>
<g transform="translate(501.11,291.58) rotate(-90)"><text x="0" y="0" font-size="7.2" font-weight="bold" fill="#000" stroke="#000" stroke-width="0.130">66.66</text></g>
<rect x="505.75" y="277.06" width="14.07" height="127.44" fill="url(#gCe)"/>
<rect x="506.15" y="277.46" width="13.27" height="127.04" fill="none" stroke="#2418c8" stroke-width="0.8"/>
<g transform="translate(515.18,275.46) rotate(-90)"><text x="0" y="0" font-size="7.2" font-weight="bold" fill="#000" stroke="#000" stroke-width="0.130">76.31</text></g>
<rect x="519.82" y="243.51" width="14.07" height="160.99" fill="url(#gCo)"/>
<rect x="520.22" y="243.91" width="13.27" height="160.59" fill="none" stroke="#2418c8" stroke-width="0.8"/>
<g transform="translate(529.25,241.91) rotate(-90)"><text x="0" y="0" font-size="7.2" font-weight="bold" fill="#000" stroke="#000" stroke-width="0.130">96.4</text></g>
<rect x="317.4" y="222.3" width="228.4" height="182.2" fill="none" stroke="#111" stroke-width="1.6"/>
<path d="M317.3 404.5V408.7 M366.17 404.5V408.7 M415.04 404.5V408.7 M463.91 404.5V408.7 M512.78 404.5V408.7 M317.4 404.5H313.2 M317.4 387.8H314.8 M317.4 371.1H313.2 M317.4 354.4H314.8 M317.4 337.7H313.2 M317.4 321H314.8 M317.4 304.3H313.2 M317.4 287.6H314.8 M317.4 270.9H313.2 M317.4 254.2H314.8 M317.4 237.5H313.2" stroke="#111" stroke-width="1.35" fill="none"/>
<text x="317.3" y="418.4" font-size="9.4" font-weight="bold" text-anchor="middle" fill="#000" stroke="#000" stroke-width="0.169">0</text>
<text x="366.17" y="418.4" font-size="9.4" font-weight="bold" text-anchor="middle" fill="#000" stroke="#000" stroke-width="0.169">30</text>
<text x="415.04" y="418.4" font-size="9.4" font-weight="bold" text-anchor="middle" fill="#000" stroke="#000" stroke-width="0.169">60</text>
<text x="463.91" y="418.4" font-size="9.4" font-weight="bold" text-anchor="middle" fill="#000" stroke="#000" stroke-width="0.169">90</text>
<text x="512.78" y="418.4" font-size="9.4" font-weight="bold" text-anchor="middle" fill="#000" stroke="#000" stroke-width="0.169">120</text>
<text x="311.3" y="407.1" font-size="9.4" font-weight="bold" text-anchor="end" fill="#000" stroke="#000" stroke-width="0.169">0</text>
<text x="311.3" y="373.7" font-size="9.4" font-weight="bold" text-anchor="end" fill="#000" stroke="#000" stroke-width="0.169">20</text>
<text x="311.3" y="340.3" font-size="9.4" font-weight="bold" text-anchor="end" fill="#000" stroke="#000" stroke-width="0.169">40</text>
<text x="311.3" y="306.9" font-size="9.4" font-weight="bold" text-anchor="end" fill="#000" stroke="#000" stroke-width="0.169">60</text>
<text x="311.3" y="273.5" font-size="9.4" font-weight="bold" text-anchor="end" fill="#000" stroke="#000" stroke-width="0.169">80</text>
<text x="311.3" y="240.1" font-size="9.4" font-weight="bold" text-anchor="end" fill="#000" stroke="#000" stroke-width="0.169">100</text>
<text x="399.5" y="432.3" font-size="10" font-weight="bold" textLength="59.5" lengthAdjust="spacingAndGlyphs" fill="#000" stroke="#000" stroke-width="0.180">Time / mins</text>
<g transform="translate(291.3,367.4) rotate(-90)"><text x="0" y="0" font-size="10" font-weight="bold" textLength="84.5" lengthAdjust="spacingAndGlyphs" fill="#000" stroke="#000" stroke-width="0.180">Degradation / %</text></g>
<rect x="321.3" y="229.9" width="19.2" height="9.8" fill="url(#sCu)"/>
<rect x="321.7" y="230.3" width="18.4" height="9" fill="none" stroke="#2a1ab8" stroke-width="0.8"/>
<rect x="321.3" y="243" width="19.2" height="9.4" fill="url(#sCe)"/>
<rect x="321.7" y="243.4" width="18.4" height="8.6" fill="none" stroke="#3a1040" stroke-width="0.8"/>
<rect x="321.3" y="259.5" width="19.2" height="9.4" fill="url(#sCo)"/>
<rect x="321.7" y="259.9" width="18.4" height="8.6" fill="none" stroke="#1c1c70" stroke-width="0.8"/>
<text x="343.3" y="237.5" font-size="9.6" font-weight="bold" textLength="21.5" lengthAdjust="spacingAndGlyphs" fill="#000" stroke="#000" stroke-width="0.173">CuO</text>
<text x="343.3" y="249.7" font-size="9.6" font-weight="bold" textLength="21.1" lengthAdjust="spacingAndGlyphs" fill="#000" stroke="#000" stroke-width="0.173">CeO</text><text x="364.3" y="255" font-size="6.2" font-weight="bold" fill="#000" stroke="#000" stroke-width="0.112">2</text>
<text x="343.3" y="266.6" font-size="9.6" font-weight="bold" textLength="20.3" lengthAdjust="spacingAndGlyphs" fill="#000" stroke="#000" stroke-width="0.173">CeO</text><text x="363.8" y="270.3" font-size="6.2" font-weight="bold" fill="#000" stroke="#000" stroke-width="0.112">2</text><text x="367.6" y="266.6" font-size="9.6" font-weight="bold" textLength="63.6" lengthAdjust="spacingAndGlyphs" fill="#000" stroke="#000" stroke-width="0.173">-CuO-Cu(OH)</text><text x="431.3" y="270.3" font-size="6.2" font-weight="bold" fill="#000" stroke="#000" stroke-width="0.112">2</text>
<text x="427.5" y="240.3" font-size="9.6" font-weight="bold" textLength="33.6" lengthAdjust="spacingAndGlyphs" fill="#2216ee" stroke="#2216ee" stroke-width="0.173">FG dye</text>
</g>
</svg></body></html>
